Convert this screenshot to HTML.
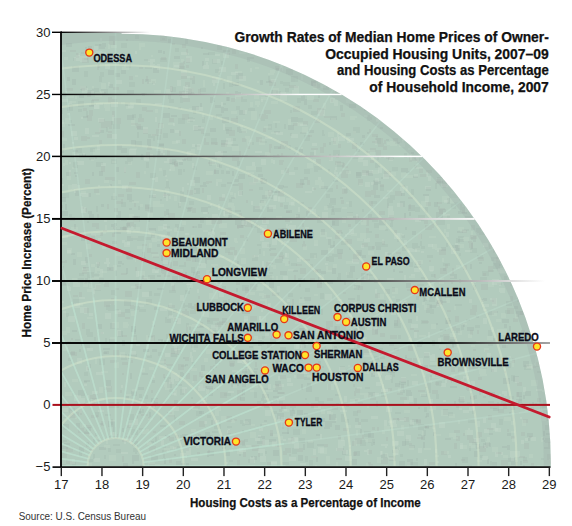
<!DOCTYPE html><html><head><meta charset="utf-8"><style>
html,body{margin:0;padding:0;background:#fff;width:572px;height:526px;overflow:hidden}
svg{display:block}
text{font-family:"Liberation Sans",sans-serif}
</style></head><body>
<svg width="572" height="526" viewBox="0 0 572 526">
<defs>
<clipPath id="pc"><rect x="61.3" y="33.0" width="489.7" height="433.7"/></clipPath>
<clipPath id="cc"><circle cx="121.5" cy="463.0" r="429.3"/><rect x="55" y="33" width="66.5" height="440"/></clipPath>

<linearGradient id="g30" gradientUnits="userSpaceOnUse" x1="61" y1="0" x2="150" y2="0"><stop offset="0" stop-color="#000"/><stop offset="1" stop-color="#fff"/></linearGradient>
<linearGradient id="g25" gradientUnits="userSpaceOnUse" x1="61" y1="0" x2="300" y2="0"><stop offset="0" stop-color="#000"/><stop offset="1" stop-color="#fff"/></linearGradient>
<linearGradient id="g20" gradientUnits="userSpaceOnUse" x1="100" y1="0" x2="400" y2="0"><stop offset="0" stop-color="#000"/><stop offset="1" stop-color="#fff"/></linearGradient>
<linearGradient id="g15" gradientUnits="userSpaceOnUse" x1="150" y1="0" x2="480" y2="0"><stop offset="0" stop-color="#000"/><stop offset="1" stop-color="#fff"/></linearGradient>
<linearGradient id="g10" gradientUnits="userSpaceOnUse" x1="300" y1="0" x2="545" y2="0"><stop offset="0" stop-color="#000"/><stop offset="1" stop-color="#fff"/></linearGradient>
<linearGradient id="g5" gradientUnits="userSpaceOnUse" x1="430" y1="0" x2="620" y2="0"><stop offset="0" stop-color="#000"/><stop offset="1" stop-color="#fff"/></linearGradient>
</defs>
<g clip-path="url(#pc)"><g clip-path="url(#cc)">
<rect x="0" y="0" width="572" height="526" fill="#b2cbbd"/>
<path d="M458 239h6v3h-6zM368 396h2v2h-2zM202 61h2v5h-2zM371 373h4v4h-4zM262 436h3v3h-3zM151 468h6v6h-6zM79 94h5v4h-5zM400 201h5v6h-5zM172 276h6v6h-6zM198 434h3v2h-3zM233 331h2v5h-2zM348 298h2v2h-2zM446 320h5v4h-5zM455 463h2v5h-2zM364 363h5v3h-5zM228 215h4v5h-4zM306 211h2v6h-2zM180 249h5v6h-5zM177 350h4v5h-4zM374 181h7v3h-7zM89 449h5v2h-5zM517 296h2v6h-2zM439 209h7v3h-7zM108 421h7v6h-7zM166 209h3v6h-3zM252 470h7v3h-7zM83 116h5v2h-5zM299 149h4v4h-4zM434 202h4v5h-4zM546 433h7v2h-7zM63 144h2v6h-2zM234 179h5v3h-5zM167 319h4v4h-4zM257 441h6v3h-6zM315 269h6v4h-6zM301 384h2v6h-2zM262 394h7v4h-7zM459 397h5v6h-5zM160 217h4v4h-4zM444 377h2v3h-2zM430 375h2v5h-2zM148 207h5v6h-5zM414 398h3v6h-3zM296 214h4v4h-4zM317 215h2v4h-2zM120 227h6v5h-6zM119 62h6v3h-6zM179 162h4v3h-4zM236 288h2v4h-2zM225 451h5v5h-5zM350 266h5v6h-5zM197 271h3v3h-3zM368 433h6v5h-6zM418 407h2v2h-2zM88 211h4v3h-4zM260 200h4v3h-4zM203 182h3v3h-3zM480 359h5v6h-5zM348 339h6v4h-6zM114 229h7v5h-7zM523 465h2v3h-2zM199 411h5v3h-5zM335 425h5v5h-5zM84 58h4v2h-4zM326 327h4v4h-4zM258 340h4v6h-4zM68 107h2v6h-2zM261 341h3v4h-3zM245 268h2v6h-2zM321 229h4v6h-4zM476 316h3v2h-3zM313 467h2v3h-2zM156 153h7v3h-7zM111 224h5v3h-5zM224 439h3v4h-3zM491 369h3v3h-3zM198 224h4v4h-4zM66 43h6v4h-6zM274 131h6v2h-6zM242 93h5v2h-5zM72 79h4v6h-4zM321 271h5v3h-5zM423 194h6v2h-6zM523 361h6v6h-6zM395 383h5v4h-5zM474 451h4v6h-4zM408 205h7v6h-7zM275 381h6v5h-6zM373 184h5v6h-5zM157 265h6v4h-6zM138 408h3v6h-3zM127 115h7v5h-7zM215 105h6v3h-6zM480 367h7v2h-7zM261 178h4v5h-4zM174 163h4v3h-4zM335 91h7v4h-7zM543 431h2v5h-2zM247 59h3v3h-3zM127 90h7v4h-7zM241 350h4v3h-4zM327 280h6v4h-6zM151 455h7v6h-7zM81 207h3v2h-3zM167 382h5v6h-5zM337 249h6v5h-6zM288 70h5v5h-5zM293 313h7v5h-7zM376 246h5v4h-5zM290 334h2v4h-2zM166 466h2v2h-2zM165 435h5v2h-5zM81 343h3v3h-3zM519 311h4v4h-4zM426 413h3v4h-3zM350 350h6v5h-6zM207 451h7v5h-7zM388 157h5v3h-5zM342 450h4v5h-4zM194 188h6v6h-6zM190 245h7v6h-7zM239 131h7v2h-7zM440 329h6v2h-6zM168 39h3v4h-3zM182 159h4v2h-4zM308 130h6v3h-6zM437 177h6v6h-6zM152 380h3v3h-3zM62 211h6v5h-6zM246 359h2v5h-2zM157 275h4v2h-4zM221 151h6v2h-6zM330 116h7v4h-7zM399 271h4v2h-4zM323 86h6v4h-6zM398 466h7v4h-7zM521 330h4v2h-4zM142 93h3v3h-3zM130 373h2v6h-2zM366 171h7v5h-7zM176 461h5v4h-5zM456 328h4v5h-4zM185 364h3v2h-3zM186 89h6v6h-6zM222 318h5v5h-5zM118 102h3v2h-3zM320 278h2v6h-2zM504 324h3v4h-3zM246 237h2v4h-2zM160 425h6v2h-6zM205 432h5v5h-5zM176 384h6v2h-6zM237 225h6v3h-6zM267 207h6v5h-6zM170 353h7v4h-7zM408 319h4v4h-4zM186 448h3v3h-3zM397 418h7v2h-7zM517 392h5v5h-5zM415 262h2v3h-2zM101 204h3v3h-3zM108 70h6v5h-6zM470 264h2v5h-2zM237 161h3v5h-3zM404 213h2v6h-2zM143 349h6v3h-6zM368 392h7v5h-7zM126 254h7v5h-7zM142 275h2v4h-2zM100 130h4v3h-4zM169 159h7v5h-7zM337 448h7v3h-7zM174 56h6v3h-6zM183 357h2v2h-2zM182 373h2v3h-2zM441 247h5v4h-5zM127 236h6v5h-6zM508 458h7v4h-7zM385 289h5v5h-5zM239 174h6v4h-6zM88 46h4v6h-4zM193 275h7v3h-7zM304 413h4v2h-4zM424 365h4v3h-4zM472 364h6v5h-6zM99 447h7v3h-7zM65 229h2v3h-2zM380 300h6v6h-6zM191 306h3v3h-3zM228 171h2v3h-2zM527 433h6v4h-6zM340 105h3v6h-3zM253 206h7v6h-7zM379 220h7v5h-7zM307 383h4v4h-4zM306 386h6v6h-6zM463 324h2v3h-2zM168 415h7v2h-7zM210 97h3v6h-3zM195 258h4v4h-4zM396 299h4v3h-4zM75 150h2v6h-2zM303 444h2v6h-2zM157 288h7v2h-7zM276 68h6v3h-6zM121 148h6v5h-6zM340 197h3v2h-3zM114 223h3v3h-3zM179 463h6v2h-6zM502 319h7v4h-7zM215 359h5v5h-5zM232 171h2v5h-2zM419 218h5v3h-5zM277 413h7v6h-7zM401 193h4v3h-4zM413 176h5v2h-5zM418 341h5v4h-5zM511 405h4v5h-4zM433 432h3v4h-3zM147 139h4v6h-4zM412 231h4v4h-4zM367 132h2v2h-2zM373 318h7v4h-7zM356 318h2v4h-2zM161 255h2v6h-2zM97 266h2v2h-2zM381 454h6v4h-6zM423 442h2v6h-2zM269 282h5v6h-5zM217 164h3v3h-3zM201 207h7v5h-7zM493 263h7v6h-7zM406 283h5v5h-5zM409 212h2v4h-2zM362 255h4v3h-4zM292 311h2v5h-2zM232 82h6v3h-6zM209 271h6v3h-6zM483 443h2v5h-2zM436 212h7v6h-7zM205 258h2v6h-2zM67 77h3v4h-3zM401 378h5v5h-5zM193 272h4v4h-4zM209 435h2v3h-2zM118 261h4v3h-4zM186 281h6v3h-6zM297 410h6v5h-6zM68 352h7v3h-7zM65 204h2v6h-2zM330 226h2v3h-2zM263 388h5v2h-5zM226 97h4v4h-4zM417 342h5v5h-5zM74 172h4v2h-4zM318 361h3v5h-3zM516 311h3v6h-3zM454 401h2v3h-2zM117 145h5v5h-5zM407 459h6v6h-6zM325 421h7v6h-7zM99 171h4v5h-4zM337 377h2v3h-2zM412 419h6v3h-6zM151 233h4v5h-4zM180 372h3v5h-3zM185 441h2v4h-2zM339 468h3v2h-3zM72 330h5v2h-5zM206 435h5v3h-5zM443 409h5v6h-5zM145 237h6v3h-6zM182 434h6v6h-6zM68 124h7v2h-7zM361 273h7v6h-7zM219 468h5v3h-5zM113 41h2v4h-2zM458 367h7v5h-7zM491 392h4v5h-4zM479 262h3v2h-3zM276 229h3v5h-3zM63 424h6v6h-6zM247 57h7v2h-7zM151 398h7v6h-7zM523 395h2v4h-2zM331 421h5v2h-5zM64 443h6v2h-6zM298 278h7v4h-7zM242 367h5v6h-5zM79 447h5v5h-5zM386 139h3v2h-3zM85 257h3v6h-3zM228 430h3v4h-3zM424 425h5v3h-5zM406 392h6v4h-6zM194 304h6v6h-6zM316 434h4v2h-4zM336 403h3v2h-3zM81 235h4v6h-4zM115 73h5v4h-5zM152 349h5v3h-5zM329 142h2v3h-2zM223 300h4v5h-4zM360 142h4v3h-4zM129 208h3v2h-3zM493 408h6v3h-6zM485 443h6v4h-6zM377 309h7v2h-7zM238 176h7v3h-7zM447 377h5v6h-5zM149 195h7v3h-7zM194 177h6v6h-6zM233 82h6v4h-6zM333 180h5v2h-5zM443 268h3v3h-3zM492 462h5v5h-5zM354 451h6v5h-6zM304 177h4v3h-4zM239 191h4v4h-4zM544 447h6v2h-6zM227 182h5v2h-5zM326 257h3v4h-3zM441 301h6v2h-6zM467 327h7v4h-7zM222 108h6v3h-6zM97 324h5v5h-5zM513 376h6v6h-6zM273 396h6v2h-6zM278 468h2v4h-2zM138 387h6v3h-6zM364 304h6v3h-6zM71 253h4v2h-4zM242 155h6v2h-6zM232 184h6v2h-6zM187 208h4v4h-4zM236 73h7v6h-7zM86 427h5v4h-5zM235 210h6v2h-6zM501 398h5v6h-5zM460 212h7v2h-7zM59 178h4v6h-4zM304 377h6v3h-6zM388 370h7v3h-7zM332 206h2v6h-2zM146 467h7v6h-7zM329 414h7v6h-7zM282 228h5v2h-5zM254 456h3v4h-3zM102 43h4v4h-4zM270 248h6v2h-6zM123 463h5v5h-5zM262 195h5v4h-5zM304 99h3v6h-3zM364 109h5v2h-5zM83 267h6v4h-6zM85 278h3v3h-3zM507 433h4v3h-4zM546 417h4v4h-4zM174 400h4v5h-4zM142 373h6v2h-6zM421 435h4v5h-4zM89 105h5v2h-5zM429 305h7v3h-7zM100 423h3v2h-3zM226 129h3v5h-3zM253 371h4v4h-4zM395 142h5v2h-5zM437 300h5v4h-5zM217 282h3v2h-3zM454 294h4v3h-4zM382 366h6v4h-6zM282 432h7v2h-7zM457 231h6v2h-6zM261 179h6v5h-6zM261 281h5v3h-5zM163 113h7v5h-7zM356 149h4v3h-4zM186 463h3v4h-3zM73 259h3v6h-3zM274 293h5v3h-5zM151 189h4v2h-4zM92 172h2v4h-2zM235 91h3v4h-3zM84 380h6v2h-6zM251 456h2v2h-2zM226 465h2v6h-2zM155 264h3v6h-3zM401 384h3v6h-3zM87 90h5v5h-5zM164 340h6v2h-6zM222 447h4v2h-4zM132 459h2v5h-2zM164 192h2v6h-2zM506 301h6v5h-6zM212 368h2v2h-2zM450 274h7v5h-7zM278 187h5v2h-5zM156 151h5v4h-5zM59 301h2v6h-2zM293 270h5v2h-5zM245 419h6v6h-6zM335 394h4v2h-4zM242 381h4v6h-4zM131 326h5v6h-5zM400 390h5v3h-5zM149 228h7v3h-7zM194 126h7v5h-7zM113 427h3v5h-3zM99 44h6v5h-6zM489 433h4v2h-4zM291 76h4v6h-4zM79 349h2v3h-2zM110 323h5v6h-5zM154 307h5v3h-5zM543 410h6v3h-6zM211 420h5v5h-5zM74 224h2v5h-2zM274 146h7v3h-7zM360 429h2v5h-2zM249 346h4v2h-4zM126 223h4v3h-4zM260 155h7v2h-7zM115 270h2v6h-2zM174 454h2v2h-2zM455 245h5v6h-5zM393 269h2v3h-2zM239 454h2v2h-2zM180 197h6v5h-6zM288 125h6v5h-6zM450 337h6v6h-6zM520 461h2v4h-2zM290 410h5v6h-5zM492 311h6v2h-6zM266 81h6v2h-6zM75 175h2v2h-2zM192 106h7v4h-7zM352 459h5v6h-5zM280 347h6v5h-6zM221 140h7v5h-7zM124 300h7v6h-7zM264 420h3v2h-3zM319 418h6v4h-6zM235 220h7v5h-7zM210 128h6v4h-6zM201 365h4v6h-4zM458 211h3v3h-3zM109 84h4v4h-4zM237 127h4v5h-4zM178 107h3v2h-3zM194 278h2v3h-2zM208 393h5v3h-5zM242 311h2v3h-2zM368 361h6v3h-6zM332 220h7v6h-7zM271 90h7v4h-7zM409 445h6v3h-6zM523 404h6v5h-6zM374 195h6v3h-6zM389 456h7v5h-7zM488 311h6v4h-6zM318 277h4v6h-4zM252 466h7v4h-7zM330 245h5v3h-5zM280 271h7v4h-7zM109 339h6v4h-6zM404 302h2v2h-2zM174 401h2v6h-2zM445 438h6v2h-6zM237 261h2v3h-2zM240 397h5v4h-5zM192 80h3v4h-3zM332 268h4v6h-4zM356 172h5v6h-5zM197 326h7v2h-7zM532 402h2v2h-2zM125 396h4v3h-4zM502 345h6v3h-6zM370 350h6v3h-6zM354 368h4v4h-4zM125 309h5v4h-5zM118 331h5v6h-5zM473 236h3v6h-3zM85 47h2v4h-2zM301 96h4v5h-4zM273 191h7v2h-7zM258 436h7v2h-7zM148 218h2v4h-2zM133 216h7v6h-7zM237 383h2v3h-2zM368 214h4v6h-4zM402 441h4v5h-4zM349 104h7v4h-7zM131 140h5v5h-5zM311 403h7v5h-7zM243 308h7v6h-7zM471 237h5v3h-5zM103 348h7v2h-7zM153 68h6v5h-6zM230 363h4v4h-4zM359 324h6v6h-6zM269 249h2v2h-2zM132 441h6v5h-6zM450 386h7v2h-7zM321 250h7v5h-7zM137 126h6v4h-6zM300 342h6v6h-6zM346 133h5v3h-5zM85 281h5v2h-5zM242 389h3v6h-3zM221 107h3v6h-3zM328 239h3v6h-3zM121 70h5v4h-5zM122 428h2v4h-2zM516 399h6v4h-6zM104 351h5v3h-5zM88 193h3v4h-3zM206 386h7v3h-7zM239 110h6v5h-6zM61 446h7v3h-7zM231 383h2v4h-2zM116 167h3v5h-3zM362 135h3v3h-3zM72 470h7v6h-7zM303 95h2v2h-2zM487 459h2v5h-2zM222 117h7v6h-7zM254 368h4v2h-4zM426 187h5v4h-5zM324 427h6v2h-6zM286 210h6v3h-6zM273 450h6v6h-6zM509 326h2v5h-2zM298 455h5v6h-5zM231 197h4v2h-4zM158 50h4v3h-4zM203 53h6v2h-6zM311 81h5v5h-5zM490 300h4v2h-4zM76 423h4v5h-4zM424 298h3v3h-3zM387 203h2v5h-2zM164 458h2v6h-2zM171 115h6v2h-6zM273 390h5v2h-5zM370 467h5v3h-5zM145 79h6v3h-6zM447 198h3v6h-3zM59 190h2v4h-2zM170 129h4v4h-4zM277 185h7v2h-7zM126 268h2v6h-2zM122 340h3v6h-3zM201 47h2v2h-2zM315 269h3v4h-3zM158 339h5v2h-5zM317 444h7v2h-7zM473 285h3v5h-3zM286 69h7v5h-7zM214 170h5v4h-5zM223 50h7v2h-7zM193 331h7v2h-7zM302 233h7v5h-7zM407 262h2v2h-2zM328 384h3v6h-3zM78 390h7v6h-7zM470 393h2v6h-2zM284 205h4v4h-4zM542 438h2v2h-2zM110 184h2v2h-2zM91 470h3v6h-3zM356 250h6v6h-6zM424 353h5v5h-5zM389 342h5v4h-5zM127 194h5v6h-5zM387 253h5v2h-5zM167 232h3v3h-3zM200 103h2v4h-2zM157 244h3v3h-3zM436 323h2v2h-2zM392 287h3v5h-3zM380 127h3v2h-3zM299 328h5v3h-5zM525 391h6v5h-6zM207 455h2v2h-2zM394 320h4v6h-4zM185 272h2v3h-2zM421 394h6v3h-6zM502 446h7v2h-7zM375 329h3v5h-3zM66 172h5v4h-5zM189 326h2v4h-2zM304 297h7v4h-7zM471 243h2v6h-2zM62 197h4v5h-4zM269 195h4v4h-4zM291 117h7v5h-7zM506 380h3v3h-3zM131 391h6v5h-6zM350 298h5v2h-5zM106 380h5v6h-5zM200 185h7v2h-7zM509 412h2v2h-2zM503 378h7v6h-7zM159 144h5v2h-5zM330 198h6v5h-6zM399 461h6v6h-6zM307 229h6v4h-6zM493 338h3v3h-3zM352 348h5v2h-5zM411 152h3v2h-3zM194 239h3v2h-3zM89 364h2v4h-2zM116 215h5v4h-5zM507 445h3v5h-3zM483 298h4v3h-4zM107 267h7v4h-7zM406 171h4v2h-4zM260 80h3v5h-3zM405 259h5v4h-5zM452 342h2v6h-2zM481 299h3v3h-3zM389 156h5v3h-5zM511 462h7v5h-7zM58 149h6v4h-6zM148 142h3v6h-3zM89 214h5v4h-5zM371 322h7v3h-7zM476 444h4v5h-4zM258 174h5v3h-5zM289 368h3v6h-3zM132 455h7v6h-7zM137 286h4v3h-4zM149 412h2v5h-2zM216 351h6v4h-6zM163 51h2v3h-2zM151 441h3v2h-3zM213 116h4v2h-4zM406 390h5v2h-5zM373 442h2v3h-2zM321 186h7v3h-7zM226 171h3v3h-3zM177 227h7v4h-7zM185 389h2v4h-2zM75 190h4v6h-4zM355 418h4v4h-4zM129 115h5v4h-5zM235 92h6v3h-6zM300 179h4v6h-4zM269 439h7v3h-7zM72 66h7v6h-7zM73 150h5v2h-5zM528 438h2v3h-2zM316 457h2v5h-2zM109 436h3v3h-3zM118 211h3v4h-3zM401 168h7v4h-7zM426 308h4v5h-4zM318 95h2v3h-2zM188 303h4v5h-4z" fill="#8e9894" fill-opacity="0.14"/>
<path d="M547 454h7v6h-7zM535 403h2v3h-2zM182 114h7v6h-7zM303 259h7v2h-7zM192 226h2v2h-2zM73 295h5v2h-5zM167 435h3v3h-3zM342 166h6v2h-6zM260 114h4v3h-4zM372 318h4v2h-4zM418 390h7v2h-7zM167 412h5v2h-5zM323 332h3v5h-3zM168 262h4v6h-4zM517 382h5v4h-5zM122 373h2v2h-2zM166 269h6v3h-6zM358 422h3v3h-3zM275 444h6v3h-6zM259 331h2v2h-2zM437 300h6v5h-6zM163 194h7v2h-7zM512 358h3v5h-3zM356 364h2v5h-2zM348 348h4v2h-4zM107 386h5v3h-5zM445 264h3v4h-3zM362 349h7v6h-7zM109 268h2v2h-2zM269 144h3v4h-3zM304 366h4v4h-4zM322 467h5v4h-5zM327 398h6v3h-6zM103 230h4v2h-4zM425 426h2v2h-2zM107 389h5v3h-5zM293 352h4v3h-4zM112 111h3v6h-3zM136 172h4v6h-4zM84 282h3v2h-3zM162 269h6v5h-6zM434 274h2v4h-2zM104 92h2v3h-2zM442 180h5v6h-5zM234 250h3v6h-3zM370 117h2v3h-2zM289 85h7v3h-7zM462 230h5v3h-5zM353 384h2v3h-2zM260 178h3v4h-3zM341 176h7v2h-7zM218 377h6v2h-6zM278 228h6v5h-6zM285 168h4v5h-4zM523 460h5v3h-5zM293 106h7v6h-7zM419 168h4v5h-4zM140 465h3v3h-3zM470 309h6v6h-6zM510 280h6v6h-6zM439 249h7v6h-7zM122 362h6v3h-6zM429 260h2v2h-2zM529 436h3v2h-3zM239 151h2v6h-2zM109 55h7v4h-7zM461 459h4v2h-4zM336 185h2v4h-2zM237 460h3v6h-3zM58 269h5v2h-5zM138 118h6v4h-6zM383 458h5v6h-5zM92 223h7v4h-7zM130 305h4v4h-4zM473 349h3v2h-3zM105 177h7v3h-7zM81 88h4v3h-4zM231 98h4v4h-4zM308 207h4v6h-4zM422 321h7v2h-7zM389 215h5v6h-5zM221 143h6v4h-6zM425 465h5v2h-5zM433 425h2v3h-2zM456 406h6v2h-6zM479 446h7v6h-7zM122 335h5v2h-5zM393 138h5v4h-5zM127 425h6v3h-6zM114 434h4v5h-4zM370 148h6v4h-6zM468 241h4v2h-4zM332 406h6v4h-6zM409 204h2v5h-2zM186 58h4v5h-4zM532 366h4v2h-4zM485 350h4v2h-4zM211 218h4v6h-4zM336 458h6v2h-6zM167 150h3v6h-3zM243 452h3v5h-3zM394 230h3v5h-3zM158 123h5v5h-5zM452 268h2v6h-2zM358 402h5v2h-5zM438 206h2v4h-2zM338 435h3v4h-3zM215 323h6v4h-6zM380 333h5v4h-5zM151 335h4v6h-4zM488 266h5v6h-5zM328 469h6v2h-6zM149 464h6v3h-6zM490 468h5v6h-5zM396 252h5v2h-5zM370 397h6v3h-6zM147 82h2v2h-2zM109 39h7v6h-7zM239 213h3v4h-3zM114 402h5v6h-5zM417 437h6v2h-6zM229 350h7v3h-7zM252 445h7v6h-7zM160 35h7v6h-7zM114 118h7v6h-7zM93 394h5v5h-5zM383 146h4v4h-4zM281 407h2v4h-2zM356 332h5v5h-5zM172 43h3v2h-3zM132 216h6v3h-6zM279 160h4v5h-4zM501 360h2v6h-2zM147 248h4v5h-4zM478 257h6v4h-6zM89 254h3v3h-3zM467 367h5v2h-5zM186 327h2v6h-2zM59 464h7v5h-7zM294 86h4v2h-4zM99 128h2v4h-2zM146 76h2v5h-2zM151 390h2v3h-2zM206 181h6v2h-6zM354 391h2v5h-2zM229 361h6v5h-6zM96 225h3v4h-3zM121 273h6v2h-6zM124 167h2v6h-2zM122 440h7v2h-7zM358 338h7v3h-7zM278 392h7v2h-7zM60 205h3v3h-3zM168 213h7v6h-7zM472 305h5v6h-5zM232 155h7v6h-7zM490 356h2v4h-2zM181 73h6v6h-6zM60 236h2v4h-2zM368 450h4v4h-4zM235 303h6v2h-6zM400 397h7v3h-7zM205 251h5v2h-5zM515 412h4v2h-4zM169 118h5v4h-5zM84 308h5v5h-5zM125 291h7v6h-7zM72 412h7v5h-7zM262 440h3v5h-3zM164 211h2v5h-2zM380 184h4v3h-4zM219 197h6v4h-6zM141 414h7v2h-7zM244 220h7v6h-7zM313 188h3v2h-3zM230 247h5v3h-5zM151 252h7v2h-7zM178 242h3v6h-3zM272 292h2v4h-2zM343 428h5v3h-5zM379 211h6v4h-6zM443 334h6v6h-6zM304 468h4v5h-4zM386 156h4v3h-4zM242 138h4v4h-4zM477 432h5v5h-5zM135 284h7v5h-7zM83 108h4v3h-4zM524 443h5v6h-5zM423 295h5v2h-5zM302 218h6v2h-6zM255 362h2v5h-2zM101 332h2v2h-2zM302 223h2v4h-2zM97 65h2v5h-2zM127 254h6v6h-6zM362 243h6v4h-6zM338 253h4v6h-4zM249 189h4v2h-4zM362 170h7v5h-7zM324 444h4v3h-4zM104 301h6v6h-6zM70 414h6v4h-6zM454 443h3v6h-3zM89 110h4v6h-4zM365 191h6v6h-6zM308 135h4v2h-4zM281 141h7v5h-7zM184 158h4v2h-4zM396 364h3v2h-3zM82 270h5v4h-5zM235 64h3v5h-3zM418 261h3v4h-3zM97 262h3v4h-3zM531 463h3v6h-3zM483 396h3v2h-3zM152 404h4v3h-4zM246 200h2v3h-2zM470 330h3v5h-3zM311 80h7v5h-7zM323 349h5v2h-5zM437 202h5v2h-5zM202 246h5v6h-5zM187 190h6v5h-6zM210 239h5v2h-5zM237 226h2v3h-2zM234 419h3v2h-3zM507 308h7v6h-7zM211 142h7v3h-7zM208 162h7v2h-7zM462 207h3v6h-3zM382 366h6v2h-6zM228 299h2v4h-2zM269 147h2v6h-2zM463 265h4v5h-4zM239 337h6v4h-6zM504 371h2v2h-2zM118 312h7v5h-7zM237 395h4v5h-4zM357 410h4v3h-4zM129 76h4v4h-4zM501 460h7v6h-7zM111 303h3v2h-3zM235 308h3v2h-3zM60 261h6v2h-6zM90 395h4v4h-4zM395 191h7v5h-7zM384 140h2v4h-2zM163 374h2v4h-2zM402 185h3v2h-3zM193 403h7v6h-7zM93 398h2v2h-2zM201 397h5v3h-5zM79 292h3v5h-3zM186 65h3v3h-3zM376 150h5v6h-5zM381 460h5v4h-5zM336 230h6v3h-6zM189 88h5v3h-5zM81 136h6v5h-6zM207 388h6v2h-6zM519 456h6v2h-6zM358 286h5v4h-5zM207 212h2v2h-2zM333 138h3v6h-3zM70 217h5v4h-5zM375 293h5v5h-5zM358 179h5v6h-5zM266 262h7v2h-7zM208 450h2v4h-2zM101 421h4v5h-4zM176 280h7v3h-7zM186 255h5v6h-5zM277 154h2v2h-2zM95 157h2v2h-2zM302 244h4v3h-4zM331 354h4v6h-4zM355 388h5v5h-5zM335 161h6v4h-6zM136 415h2v3h-2zM463 433h2v3h-2zM263 217h3v6h-3zM326 321h7v6h-7zM105 121h7v6h-7zM369 201h4v5h-4zM129 182h7v3h-7zM440 208h5v2h-5zM432 390h6v4h-6zM97 214h2v6h-2zM193 375h4v6h-4zM329 154h2v6h-2zM346 317h4v4h-4zM275 66h6v4h-6zM240 440h5v5h-5zM293 123h5v3h-5zM109 402h5v6h-5zM280 375h6v4h-6zM69 408h6v5h-6zM372 427h3v3h-3zM250 316h7v5h-7zM188 91h6v4h-6zM121 199h2v3h-2zM92 99h7v2h-7zM267 462h4v4h-4zM198 400h3v4h-3zM66 88h7v3h-7zM536 362h3v5h-3zM331 99h2v3h-2zM341 113h4v4h-4zM238 183h5v3h-5zM153 256h6v2h-6zM210 366h4v4h-4zM238 349h6v4h-6zM348 224h3v3h-3zM283 451h4v4h-4zM161 340h2v3h-2zM435 372h4v5h-4zM416 364h3v2h-3zM310 278h5v3h-5zM470 396h5v4h-5zM478 377h4v3h-4zM498 409h6v4h-6zM136 123h2v5h-2zM352 143h5v6h-5zM510 296h3v6h-3zM202 188h2v5h-2zM152 134h7v2h-7zM366 151h4v2h-4zM275 384h7v6h-7zM386 437h2v4h-2zM60 77h2v4h-2zM342 188h5v6h-5zM267 344h5v4h-5zM376 138h7v5h-7zM388 388h4v3h-4zM382 342h2v3h-2zM456 436h4v5h-4zM451 281h2v3h-2zM118 201h5v3h-5zM162 249h5v5h-5zM311 148h7v2h-7zM213 365h4v3h-4zM341 170h7v6h-7zM179 274h4v6h-4zM212 78h4v2h-4zM219 467h6v6h-6zM85 208h2v4h-2zM285 219h5v3h-5zM307 180h3v5h-3zM320 113h3v3h-3zM467 435h6v5h-6zM207 257h7v3h-7zM220 232h6v3h-6zM366 279h4v3h-4zM266 263h3v6h-3zM334 346h3v2h-3zM182 44h4v4h-4zM270 430h3v6h-3zM143 129h5v5h-5zM214 388h4v2h-4zM343 292h3v2h-3zM237 390h6v6h-6zM192 256h4v6h-4zM250 284h7v6h-7zM404 417h5v5h-5zM372 141h7v2h-7zM396 261h6v3h-6zM372 329h6v6h-6zM355 399h3v3h-3zM109 36h7v4h-7zM197 278h6v2h-6zM313 84h7v4h-7zM101 166h4v6h-4zM240 235h4v3h-4zM83 267h3v2h-3zM285 448h6v5h-6zM393 418h6v2h-6zM163 148h2v5h-2zM520 311h5v4h-5zM278 147h7v2h-7zM303 121h5v4h-5zM451 367h4v5h-4zM110 360h7v3h-7zM439 208h4v6h-4zM126 187h6v5h-6zM399 256h2v5h-2zM202 239h5v6h-5zM182 311h7v5h-7zM197 452h3v3h-3zM185 357h4v4h-4zM125 425h2v4h-2zM214 169h2v5h-2zM183 61h2v3h-2zM87 367h2v3h-2zM511 436h4v3h-4zM99 140h3v4h-3zM202 243h7v4h-7zM507 429h2v3h-2zM416 419h5v5h-5zM179 421h6v4h-6zM111 99h6v5h-6zM397 393h6v2h-6zM394 348h5v3h-5zM112 177h3v4h-3zM135 267h2v4h-2zM409 157h3v5h-3zM338 144h3v4h-3zM211 229h2v6h-2zM317 282h5v6h-5zM146 152h4v6h-4zM186 373h4v6h-4zM279 409h3v3h-3zM213 318h6v3h-6zM420 174h7v3h-7zM431 222h3v6h-3zM549 460h2v4h-2zM394 470h7v2h-7zM407 289h5v2h-5zM294 275h2v5h-2zM353 452h4v3h-4zM316 159h5v5h-5zM441 451h6v4h-6zM125 317h5v2h-5zM198 89h3v5h-3zM137 124h4v5h-4zM493 249h2v4h-2zM168 255h3v3h-3zM289 454h2v2h-2zM549 457h2v3h-2zM382 241h3v4h-3zM174 318h4v4h-4zM429 462h6v3h-6zM107 134h5v4h-5zM67 341h4v2h-4zM418 234h4v5h-4zM104 281h5v6h-5zM460 204h2v6h-2zM247 146h3v3h-3zM268 190h5v6h-5zM153 431h3v2h-3zM185 82h5v5h-5zM296 183h7v5h-7zM182 139h4v5h-4zM201 128h3v6h-3zM112 233h3v4h-3zM426 202h5v4h-5zM303 241h2v5h-2zM275 360h5v4h-5zM299 284h2v3h-2zM134 203h2v4h-2zM405 355h2v5h-2zM95 132h5v2h-5zM366 220h3v6h-3zM178 364h6v6h-6zM149 446h7v6h-7zM179 63h5v6h-5zM190 76h5v4h-5zM231 118h7v5h-7zM443 184h3v4h-3zM531 407h3v3h-3zM412 159h5v2h-5zM409 157h7v4h-7zM225 208h7v6h-7zM245 289h4v4h-4zM523 419h5v4h-5zM218 238h2v6h-2zM206 182h3v2h-3zM152 325h3v2h-3zM279 359h3v3h-3zM131 360h2v3h-2zM288 261h2v3h-2zM248 174h3v3h-3zM337 330h6v5h-6zM301 336h4v6h-4zM477 330h2v4h-2zM352 441h4v5h-4zM440 268h7v6h-7zM258 453h2v4h-2zM548 442h2v5h-2zM313 270h5v2h-5zM398 419h2v2h-2zM179 131h2v5h-2zM114 208h4v4h-4zM94 189h5v4h-5zM126 436h4v3h-4zM323 143h3v4h-3zM537 398h4v4h-4zM438 370h3v2h-3zM85 179h5v5h-5zM496 257h6v6h-6zM252 351h5v2h-5zM353 256h6v6h-6zM492 298h4v6h-4zM364 341h3v5h-3zM488 415h4v5h-4zM264 295h6v3h-6zM322 366h2v2h-2zM82 58h7v5h-7zM280 160h4v2h-4zM239 186h4v4h-4zM336 154h3v4h-3zM353 452h3v4h-3zM312 84h6v2h-6zM183 98h7v4h-7zM397 317h3v6h-3zM366 228h3v5h-3zM296 264h6v2h-6zM219 321h7v4h-7zM372 134h6v3h-6zM113 350h6v6h-6zM160 124h3v3h-3zM166 364h7v2h-7zM75 352h2v4h-2zM286 211h4v2h-4zM207 320h3v2h-3zM280 203h3v4h-3zM266 378h2v2h-2zM263 128h3v4h-3zM66 447h7v5h-7zM466 387h4v3h-4zM346 170h3v3h-3zM487 428h7v2h-7zM220 392h7v6h-7zM225 53h5v2h-5zM469 242h4v6h-4zM511 466h6v6h-6zM66 459h6v5h-6zM371 190h5v5h-5zM146 110h7v2h-7zM200 386h7v2h-7zM71 338h2v2h-2zM174 161h4v6h-4zM142 244h5v2h-5zM78 428h6v5h-6zM131 123h7v2h-7zM270 253h7v3h-7zM192 208h4v5h-4zM254 178h4v4h-4zM345 304h7v4h-7zM455 316h4v6h-4zM82 323h3v6h-3zM496 452h6v2h-6zM368 462h3v2h-3zM410 328h4v2h-4zM353 254h6v2h-6zM145 205h5v6h-5zM63 280h5v5h-5zM370 160h4v3h-4zM355 438h7v6h-7zM83 137h7v2h-7zM143 278h4v3h-4zM483 273h3v3h-3zM520 466h7v4h-7zM109 123h3v6h-3zM184 262h2v3h-2zM245 224h7v3h-7zM279 255h5v4h-5zM147 147h5v3h-5zM317 108h7v6h-7zM236 97h7v2h-7zM126 39h2v2h-2zM378 143h6v4h-6zM320 147h4v6h-4zM161 57h5v3h-5zM254 222h3v2h-3zM424 220h4v4h-4zM164 359h2v5h-2zM390 335h7v4h-7zM470 235h7v4h-7zM115 288h4v2h-4zM409 443h3v2h-3zM266 265h4v6h-4zM161 268h3v5h-3zM255 470h4v4h-4zM436 302h3v4h-3zM186 49h2v6h-2zM281 153h2v4h-2zM469 439h7v4h-7zM353 216h6v2h-6zM173 261h5v5h-5zM408 346h5v5h-5zM122 227h7v3h-7zM473 310h4v2h-4zM142 79h2v5h-2zM87 115h5v6h-5zM292 299h2v6h-2zM236 306h6v5h-6zM280 313h7v4h-7zM142 252h3v6h-3zM108 131h4v2h-4zM116 201h2v3h-2zM503 403h4v6h-4zM369 464h4v5h-4zM479 391h2v4h-2zM454 430h6v3h-6zM452 326h4v5h-4zM357 342h3v6h-3zM477 437h3v5h-3zM269 80h7v6h-7zM96 285h5v4h-5zM346 404h3v3h-3zM199 372h4v5h-4zM107 301h7v3h-7zM107 204h2v5h-2zM232 356h4v3h-4zM111 298h3v2h-3zM297 448h6v4h-6zM513 318h5v4h-5zM232 49h4v5h-4zM226 416h6v6h-6zM412 305h3v4h-3zM345 239h7v5h-7zM334 326h3v4h-3zM84 432h7v2h-7zM91 415h7v3h-7zM467 387h6v4h-6zM362 435h2v4h-2zM489 244h3v5h-3zM374 279h6v4h-6zM324 116h6v2h-6zM245 287h3v6h-3zM314 119h6v4h-6zM471 225h4v5h-4zM170 86h3v6h-3zM458 399h7v3h-7zM89 158h5v2h-5zM164 271h6v6h-6zM86 425h7v3h-7zM118 194h6v3h-6zM156 129h6v5h-6zM297 374h7v5h-7zM341 200h3v4h-3zM414 330h5v2h-5zM168 305h7v3h-7zM426 170h6v3h-6zM204 142h5v3h-5zM425 225h7v5h-7zM122 456h2v6h-2zM278 191h6v5h-6zM185 309h2v4h-2zM99 119h6v4h-6zM413 358h4v5h-4zM372 246h3v3h-3zM87 92h4v5h-4zM101 123h6v5h-6zM516 392h3v5h-3zM264 110h7v4h-7zM65 260h2v3h-2zM237 225h7v3h-7zM188 207h5v4h-5zM502 464h4v5h-4zM108 97h4v6h-4zM100 232h3v4h-3zM436 179h5v5h-5zM175 435h4v3h-4zM92 401h3v4h-3zM287 419h4v5h-4zM91 235h4v5h-4zM113 227h4v2h-4zM375 234h4v4h-4zM171 348h7v6h-7zM204 138h2v5h-2zM291 437h3v4h-3zM447 310h4v2h-4zM313 99h6v3h-6zM71 351h4v5h-4zM408 197h5v2h-5zM139 67h4v2h-4zM199 421h6v6h-6zM335 235h5v4h-5zM481 284h7v6h-7zM329 415h2v5h-2zM148 417h2v2h-2zM414 165h3v3h-3zM256 137h6v5h-6zM384 171h7v6h-7zM436 220h2v6h-2zM290 236h7v6h-7zM236 282h4v3h-4zM277 230h5v4h-5zM70 50h6v2h-6zM113 87h6v3h-6zM311 456h6v2h-6zM169 458h3v5h-3zM497 402h2v6h-2zM235 337h6v5h-6zM179 91h6v5h-6zM377 427h2v4h-2zM228 252h5v3h-5zM142 107h5v4h-5zM280 144h4v5h-4zM521 432h4v4h-4zM319 353h4v5h-4zM120 390h2v3h-2zM76 53h3v5h-3zM215 218h7v6h-7zM259 114h7v5h-7zM59 131h5v6h-5zM369 129h2v4h-2zM342 163h3v4h-3zM435 382h4v3h-4zM229 130h6v6h-6zM407 358h5v6h-5zM172 285h3v6h-3zM198 296h2v3h-2zM300 268h6v6h-6zM104 387h4v3h-4zM169 437h5v4h-5zM147 154h3v5h-3zM263 115h5v4h-5zM127 222h7v5h-7zM80 410h2v5h-2z" fill="#a39a9e" fill-opacity="0.14"/>
<path d="M153 136h2v5h-2zM277 401h6v3h-6zM268 124h4v6h-4zM268 76h2v6h-2zM198 264h3v2h-3zM375 242h7v4h-7zM126 62h5v6h-5zM425 426h7v3h-7zM305 398h2v2h-2zM304 169h6v5h-6zM95 44h6v2h-6zM341 417h4v5h-4zM544 440h4v2h-4zM318 401h6v4h-6zM392 450h6v3h-6zM216 114h6v2h-6zM135 35h4v4h-4zM514 306h4v3h-4zM152 81h3v3h-3zM357 252h4v4h-4zM174 446h7v4h-7zM355 219h5v5h-5zM320 293h4v6h-4zM369 231h3v2h-3zM285 145h6v5h-6zM436 394h3v5h-3zM99 278h5v5h-5zM212 431h6v2h-6zM210 270h4v2h-4zM139 309h7v3h-7zM467 402h3v2h-3zM99 359h6v6h-6zM96 165h5v2h-5zM488 343h5v3h-5zM134 306h6v4h-6zM158 352h4v4h-4zM111 196h6v4h-6zM337 277h4v3h-4zM259 249h2v5h-2zM295 76h3v6h-3zM497 283h5v2h-5zM205 436h2v3h-2zM323 134h2v2h-2zM142 409h2v3h-2zM148 134h7v4h-7zM172 162h3v3h-3zM148 275h7v4h-7zM175 224h4v3h-4zM270 336h6v6h-6zM288 440h4v4h-4zM160 199h2v2h-2zM427 255h6v3h-6zM439 348h2v2h-2zM476 228h5v4h-5zM305 288h5v4h-5zM468 419h7v4h-7zM400 454h3v3h-3zM368 246h6v4h-6zM425 416h2v2h-2zM139 411h5v2h-5zM184 253h7v5h-7zM236 267h2v5h-2zM509 396h5v3h-5zM87 272h7v6h-7zM163 452h2v6h-2zM63 92h4v5h-4zM310 152h4v5h-4zM395 447h4v3h-4zM391 220h2v4h-2zM236 116h2v3h-2zM372 217h6v5h-6zM168 311h4v5h-4zM353 411h5v5h-5zM385 229h3v2h-3zM60 452h7v6h-7zM486 446h2v2h-2zM264 277h2v2h-2zM241 219h5v5h-5zM381 177h2v2h-2zM86 111h2v6h-2zM84 71h4v6h-4zM221 170h3v4h-3zM265 266h2v3h-2zM300 132h6v2h-6zM139 114h3v4h-3zM236 106h4v4h-4zM184 88h5v2h-5zM329 353h6v6h-6zM113 444h7v2h-7zM344 282h2v3h-2zM160 416h3v4h-3zM205 379h6v5h-6zM290 110h2v3h-2zM480 277h7v5h-7zM334 208h7v4h-7zM399 381h7v4h-7zM180 435h2v6h-2zM187 157h5v4h-5zM444 336h6v5h-6zM537 371h4v2h-4zM221 61h2v4h-2zM333 150h7v6h-7zM88 459h5v3h-5zM452 342h5v3h-5zM275 123h2v5h-2zM165 317h2v6h-2zM96 162h7v3h-7zM327 205h5v3h-5zM149 291h3v5h-3zM134 329h2v5h-2zM180 389h4v6h-4zM291 263h6v3h-6zM314 166h4v6h-4zM307 442h7v6h-7zM374 356h5v4h-5zM305 456h3v6h-3zM193 118h2v2h-2zM72 462h4v6h-4zM429 365h7v2h-7zM200 322h3v5h-3zM183 275h2v5h-2zM352 328h6v6h-6zM445 318h5v6h-5zM162 450h5v3h-5zM240 335h3v6h-3zM485 442h5v4h-5zM242 441h3v5h-3zM376 136h2v6h-2zM191 267h4v6h-4zM164 226h6v2h-6zM143 257h3v6h-3zM470 248h7v5h-7zM380 185h4v6h-4zM183 169h2v3h-2zM217 45h5v5h-5zM136 466h6v4h-6zM87 332h6v5h-6zM283 186h5v2h-5zM287 428h2v6h-2zM203 437h6v4h-6zM114 309h5v2h-5zM394 323h7v5h-7zM145 67h7v2h-7zM357 295h3v6h-3zM322 130h2v6h-2zM277 392h7v2h-7zM217 322h6v3h-6zM315 397h4v4h-4zM293 429h7v6h-7zM347 212h6v4h-6zM242 430h2v3h-2zM265 451h2v3h-2zM474 395h3v4h-3zM273 411h4v3h-4zM367 274h6v2h-6zM91 100h3v6h-3zM364 431h7v6h-7zM421 277h4v3h-4zM428 387h3v6h-3zM192 362h3v4h-3zM542 406h4v5h-4zM356 172h6v4h-6zM235 84h6v2h-6zM298 118h5v5h-5zM63 440h4v2h-4zM311 111h6v4h-6zM62 193h7v5h-7zM260 370h4v5h-4zM92 398h5v3h-5zM414 246h6v4h-6zM360 219h3v3h-3zM280 317h4v3h-4zM266 275h6v5h-6zM508 363h3v5h-3zM341 414h3v6h-3zM79 273h5v3h-5zM425 207h3v6h-3zM138 206h2v4h-2zM193 166h4v4h-4zM179 265h7v2h-7zM98 92h5v3h-5zM275 257h7v6h-7zM62 281h5v5h-5zM201 374h6v4h-6zM427 304h5v6h-5zM311 232h3v5h-3zM129 82h6v5h-6zM455 304h7v2h-7zM264 405h7v3h-7zM276 91h5v5h-5zM390 223h3v4h-3zM169 99h5v4h-5zM425 382h6v6h-6zM354 287h5v3h-5zM297 357h2v5h-2zM477 228h3v5h-3zM154 293h6v3h-6zM257 244h4v2h-4zM397 237h2v5h-2zM310 253h7v5h-7zM364 361h4v6h-4zM122 263h2v2h-2zM281 405h5v4h-5zM229 199h3v3h-3zM86 442h3v5h-3zM163 170h3v6h-3zM213 98h2v4h-2zM179 66h6v3h-6zM84 431h7v3h-7zM248 459h6v4h-6zM235 381h4v3h-4zM326 194h4v4h-4zM106 305h7v5h-7zM161 268h6v3h-6zM257 228h5v5h-5zM121 354h6v6h-6zM488 270h6v2h-6zM431 274h4v3h-4zM170 87h6v5h-6zM135 141h7v6h-7zM137 236h7v5h-7zM284 124h2v5h-2zM390 195h5v5h-5zM252 336h2v5h-2zM332 221h3v4h-3zM157 135h4v5h-4zM309 367h7v4h-7zM294 153h2v4h-2zM423 430h3v6h-3zM317 218h6v5h-6zM193 226h4v2h-4zM445 296h6v2h-6zM436 381h6v5h-6zM462 229h7v2h-7zM395 412h6v2h-6zM424 407h3v5h-3zM492 362h6v2h-6zM82 154h4v2h-4zM61 266h3v4h-3zM292 448h5v6h-5zM462 457h6v6h-6zM76 148h6v5h-6zM92 88h7v6h-7zM146 162h3v6h-3zM299 438h6v5h-6zM68 358h3v3h-3zM545 425h7v5h-7zM260 210h3v2h-3zM111 419h2v6h-2zM480 455h3v3h-3zM148 336h5v2h-5zM466 319h4v2h-4zM162 38h3v2h-3zM314 371h4v3h-4zM160 58h7v4h-7zM261 398h3v3h-3zM248 108h7v3h-7zM290 133h2v3h-2zM333 241h2v6h-2zM207 415h4v3h-4zM235 351h5v5h-5zM421 246h4v3h-4zM178 169h4v6h-4zM206 341h4v5h-4zM168 95h3v4h-3zM125 161h6v3h-6zM139 428h7v2h-7zM334 174h2v3h-2zM221 184h5v3h-5zM219 286h7v5h-7zM461 325h3v5h-3zM440 335h3v2h-3zM469 446h2v5h-2zM121 202h5v5h-5zM174 239h4v5h-4zM371 440h2v6h-2zM168 107h2v2h-2zM338 273h3v5h-3zM398 335h3v4h-3zM420 241h2v5h-2zM264 336h7v2h-7zM429 296h6v6h-6zM511 375h4v6h-4zM78 278h6v5h-6zM242 285h7v6h-7zM489 394h3v3h-3zM418 424h6v6h-6zM173 309h4v4h-4zM175 48h4v4h-4zM373 180h5v5h-5zM515 460h2v6h-2zM328 266h4v4h-4zM245 361h4v2h-4zM275 327h3v4h-3zM241 99h6v3h-6zM248 142h6v3h-6zM377 157h2v3h-2zM381 392h5v5h-5zM135 452h2v2h-2zM435 183h2v6h-2zM191 342h7v6h-7zM411 189h3v6h-3zM381 244h7v3h-7zM404 153h3v5h-3zM331 209h4v6h-4zM411 462h7v6h-7zM111 159h6v5h-6zM273 155h7v3h-7zM141 154h2v6h-2zM73 299h6v5h-6zM178 118h7v6h-7zM280 81h3v3h-3zM111 290h4v5h-4zM279 469h5v3h-5zM93 274h7v2h-7zM438 219h7v6h-7zM447 215h3v5h-3zM375 138h6v6h-6zM250 459h4v2h-4zM499 419h4v6h-4zM418 215h7v5h-7zM297 98h4v5h-4zM192 247h5v6h-5zM452 245h7v6h-7zM167 342h3v2h-3zM189 285h2v4h-2zM73 162h5v6h-5zM468 465h4v2h-4zM346 369h5v5h-5zM161 250h5v3h-5zM288 293h5v4h-5zM227 248h2v5h-2zM240 420h3v4h-3zM396 467h5v5h-5zM144 59h6v2h-6zM112 241h5v3h-5zM458 236h6v2h-6zM185 290h3v4h-3zM371 349h2v3h-2zM283 82h7v4h-7zM491 257h7v4h-7zM184 440h7v2h-7zM268 401h3v2h-3zM352 156h6v3h-6zM246 329h5v3h-5zM113 124h7v5h-7zM479 232h7v3h-7zM93 439h2v5h-2zM202 117h3v6h-3zM229 82h4v5h-4zM258 336h6v3h-6zM61 110h2v4h-2zM344 189h4v4h-4zM260 424h7v3h-7zM308 105h4v4h-4zM68 469h2v2h-2zM387 198h6v5h-6zM111 121h2v4h-2zM279 256h4v5h-4zM117 265h4v2h-4zM352 376h4v2h-4zM219 165h3v3h-3zM125 251h6v4h-6zM211 138h6v6h-6zM490 406h7v3h-7zM488 330h4v6h-4zM345 419h4v4h-4zM225 127h7v4h-7zM464 378h2v3h-2zM141 93h6v2h-6zM549 422h6v4h-6zM347 272h6v6h-6zM416 296h3v4h-3zM268 401h4v6h-4zM285 88h4v4h-4zM244 439h4v3h-4zM428 403h3v3h-3zM271 191h6v2h-6zM372 359h3v5h-3zM95 412h4v5h-4zM84 381h3v3h-3zM231 144h7v2h-7zM394 362h5v4h-5zM221 79h3v2h-3zM161 446h5v2h-5zM78 109h4v3h-4zM158 265h3v2h-3zM121 43h6v5h-6zM132 114h4v4h-4zM337 162h7v5h-7zM212 59h5v5h-5zM157 143h7v5h-7zM226 304h6v6h-6zM354 285h6v3h-6zM282 423h2v6h-2zM238 307h3v4h-3zM309 460h4v6h-4zM128 414h6v6h-6zM84 372h4v4h-4zM174 417h2v5h-2zM329 256h5v6h-5zM229 460h4v2h-4zM145 204h5v5h-5zM178 203h3v5h-3zM265 278h4v3h-4zM239 358h2v2h-2zM188 117h5v5h-5zM305 367h6v6h-6zM523 457h4v4h-4zM130 357h3v2h-3zM300 328h5v5h-5zM203 133h7v3h-7zM241 222h4v4h-4zM302 183h3v2h-3zM155 437h2v5h-2zM376 401h2v6h-2zM164 377h7v5h-7zM127 157h6v4h-6zM329 203h7v2h-7zM195 145h5v2h-5zM260 141h7v2h-7zM147 355h5v3h-5zM87 221h2v2h-2zM181 365h5v2h-5zM80 86h7v4h-7zM365 387h5v2h-5zM185 291h5v3h-5zM505 310h5v4h-5zM269 352h4v6h-4zM361 419h7v3h-7zM186 323h3v4h-3zM504 276h3v4h-3zM412 243h6v6h-6zM304 329h6v5h-6zM139 394h3v4h-3zM191 397h2v2h-2zM251 224h7v4h-7zM133 448h5v4h-5zM472 442h6v3h-6zM353 127h7v6h-7zM456 238h4v5h-4zM207 318h6v6h-6zM541 458h3v2h-3zM105 414h6v2h-6zM390 372h5v5h-5zM379 348h4v3h-4zM416 458h2v3h-2zM270 433h3v3h-3zM513 338h7v5h-7zM353 155h5v3h-5zM227 97h2v4h-2zM137 132h2v6h-2zM432 340h3v6h-3zM261 119h4v2h-4zM329 338h2v2h-2zM374 223h5v5h-5zM130 354h7v3h-7zM185 305h3v2h-3zM218 71h2v4h-2zM177 469h3v2h-3zM299 202h5v2h-5zM232 354h6v4h-6zM286 230h2v6h-2zM326 188h7v4h-7zM96 206h2v6h-2zM328 169h2v4h-2zM418 434h3v2h-3zM145 350h2v3h-2zM259 187h4v3h-4zM184 468h6v2h-6zM440 294h2v6h-2zM210 435h3v6h-3zM215 69h6v4h-6zM423 296h2v6h-2zM506 357h4v5h-4zM407 380h2v6h-2zM125 102h5v4h-5zM163 133h5v5h-5zM185 38h3v6h-3zM340 366h5v4h-5zM180 191h4v6h-4zM368 439h7v4h-7zM103 352h4v2h-4zM146 299h6v6h-6zM318 166h4v4h-4zM242 423h3v3h-3zM244 373h7v6h-7zM128 354h7v5h-7zM488 401h6v2h-6zM362 209h2v3h-2zM227 426h5v2h-5zM200 217h4v6h-4zM188 252h3v3h-3zM231 138h5v3h-5zM417 284h7v2h-7zM108 448h3v4h-3zM380 353h5v6h-5zM416 420h5v3h-5zM100 72h4v5h-4zM66 283h4v3h-4zM353 131h3v3h-3zM189 201h5v4h-5zM249 182h7v3h-7zM214 424h7v5h-7zM131 430h7v5h-7zM290 405h6v3h-6zM166 334h6v5h-6zM93 454h2v5h-2zM321 309h2v6h-2zM360 440h6v6h-6zM367 115h3v6h-3zM104 455h2v4h-2zM175 318h2v4h-2zM380 349h2v6h-2zM170 158h2v6h-2zM255 206h4v2h-4zM67 105h6v6h-6zM341 241h7v4h-7zM168 333h3v4h-3zM191 250h6v3h-6zM349 247h2v3h-2zM310 264h3v4h-3zM95 433h3v3h-3zM105 338h2v5h-2zM395 365h4v6h-4zM94 289h7v2h-7zM166 181h3v6h-3zM121 219h6v2h-6zM295 147h3v3h-3zM459 279h2v4h-2zM75 339h5v2h-5zM405 357h2v5h-2zM101 89h7v5h-7zM136 99h5v4h-5zM263 400h6v5h-6zM79 451h3v5h-3zM448 341h5v2h-5zM265 94h3v3h-3zM543 400h5v4h-5zM401 235h4v3h-4zM256 167h6v5h-6zM86 329h4v6h-4zM108 305h7v6h-7zM294 167h4v3h-4zM194 271h4v4h-4zM258 276h4v4h-4zM116 449h5v4h-5zM451 204h5v5h-5zM209 328h7v6h-7zM300 297h2v2h-2zM215 279h3v2h-3zM371 201h6v3h-6zM169 389h4v3h-4zM405 439h4v6h-4zM490 461h2v5h-2zM183 303h2v5h-2zM475 325h5v3h-5zM292 407h2v4h-2zM129 200h5v2h-5zM421 320h7v4h-7zM225 248h5v5h-5zM193 111h3v3h-3zM190 310h6v4h-6zM252 255h6v6h-6zM481 439h4v3h-4zM233 373h2v2h-2zM69 120h3v3h-3zM223 103h3v2h-3zM131 429h4v3h-4zM94 337h2v4h-2zM442 357h2v2h-2zM133 236h7v4h-7zM254 392h3v6h-3zM98 64h2v4h-2zM106 127h2v5h-2zM414 266h7v2h-7zM78 101h6v6h-6zM224 393h7v3h-7zM446 243h2v4h-2zM223 83h2v6h-2zM90 148h5v4h-5zM257 401h4v4h-4zM245 369h5v4h-5zM524 365h7v5h-7zM81 52h3v2h-3zM208 52h7v3h-7zM150 173h6v5h-6zM136 258h7v4h-7zM105 468h4v3h-4zM169 290h7v3h-7zM459 253h2v3h-2zM356 278h2v3h-2zM443 263h7v3h-7zM545 438h6v5h-6zM59 92h3v2h-3zM336 232h7v2h-7zM415 207h5v5h-5zM215 143h2v2h-2zM409 262h4v5h-4zM349 201h3v6h-3zM132 335h5v5h-5zM375 163h5v5h-5zM208 206h3v2h-3zM209 160h3v6h-3zM448 412h5v4h-5zM123 226h5v4h-5zM472 410h3v4h-3zM98 440h4v4h-4zM299 355h4v6h-4zM200 88h6v4h-6zM269 272h4v2h-4zM280 252h3v3h-3zM306 403h3v2h-3zM519 396h3v5h-3zM267 244h4v3h-4zM391 377h2v6h-2zM75 466h4v3h-4zM304 135h6v6h-6zM186 207h6v2h-6zM134 224h2v5h-2zM392 167h6v4h-6zM233 337h5v5h-5zM282 462h7v3h-7zM69 214h3v3h-3zM335 326h5v6h-5zM65 342h2v5h-2zM99 76h3v6h-3zM482 271h7v5h-7zM63 313h6v4h-6zM430 309h4v5h-4zM332 254h6v3h-6zM402 245h5v6h-5zM73 58h3v3h-3zM165 187h5v2h-5zM405 227h2v3h-2zM176 466h6v5h-6zM381 156h3v2h-3zM63 413h5v5h-5zM144 395h4v4h-4zM477 255h6v4h-6zM409 424h4v4h-4zM180 97h3v6h-3zM162 264h2v5h-2zM196 411h6v5h-6zM83 343h7v5h-7zM365 341h7v2h-7zM465 216h7v4h-7zM499 264h2v2h-2z" fill="#96a69a" fill-opacity="0.14"/>
<path d="M307 321h5v4h-5zM152 254h7v3h-7zM242 304h3v6h-3zM488 282h6v5h-6zM421 201h7v6h-7zM142 429h7v5h-7zM273 385h3v3h-3zM157 239h3v2h-3zM262 423h5v3h-5zM257 382h6v2h-6zM104 103h6v5h-6zM221 235h6v4h-6zM148 230h7v4h-7zM504 417h7v4h-7zM311 456h6v2h-6zM65 138h2v3h-2zM321 85h5v3h-5zM332 308h4v5h-4zM458 227h6v3h-6zM219 224h6v4h-6zM251 116h6v4h-6zM302 429h4v5h-4zM233 385h4v3h-4zM319 342h2v5h-2zM512 361h2v6h-2zM357 238h6v3h-6zM493 428h5v3h-5zM192 345h2v5h-2zM67 113h3v2h-3zM529 454h4v4h-4zM95 92h7v5h-7zM338 348h4v5h-4zM108 44h2v5h-2zM380 367h7v5h-7zM67 176h4v4h-4zM263 304h7v6h-7zM432 244h5v5h-5zM124 324h5v2h-5zM354 369h2v6h-2zM302 127h6v6h-6zM67 248h5v6h-5zM247 139h5v6h-5zM172 141h6v3h-6zM404 410h6v3h-6zM486 442h3v5h-3zM231 111h6v3h-6zM159 124h5v4h-5zM281 467h7v3h-7zM442 258h2v4h-2zM410 145h7v5h-7zM131 120h4v6h-4zM303 246h4v4h-4zM104 180h5v3h-5zM511 431h4v2h-4zM206 389h3v5h-3zM265 152h5v5h-5zM458 331h4v4h-4zM231 420h4v3h-4zM265 191h7v6h-7zM191 149h4v5h-4zM253 302h3v6h-3zM149 243h3v5h-3zM461 379h7v5h-7zM211 264h7v2h-7zM346 171h5v3h-5zM541 437h2v5h-2zM354 440h3v6h-3zM460 230h6v2h-6zM265 300h2v6h-2zM346 155h4v2h-4zM94 105h6v4h-6zM392 296h3v2h-3zM388 457h5v2h-5zM166 229h6v2h-6zM260 299h7v2h-7zM237 448h6v6h-6zM460 445h7v4h-7zM103 282h2v2h-2zM447 224h3v5h-3zM273 196h7v5h-7zM65 392h7v4h-7zM351 233h6v3h-6zM147 212h6v5h-6zM137 246h5v3h-5zM72 379h6v3h-6zM404 300h3v2h-3zM486 441h2v6h-2zM112 161h4v2h-4zM512 466h5v3h-5zM451 374h4v3h-4zM154 90h7v3h-7zM131 236h7v2h-7zM347 213h6v6h-6zM376 309h2v4h-2zM377 457h4v6h-4zM109 185h2v2h-2zM431 324h5v5h-5zM449 414h6v4h-6zM202 440h4v3h-4zM320 448h7v6h-7zM192 381h2v2h-2zM93 149h7v6h-7zM259 316h7v6h-7zM342 207h5v2h-5zM422 302h3v3h-3zM168 411h6v6h-6zM424 305h6v5h-6zM206 349h6v5h-6zM270 70h5v3h-5zM229 449h4v3h-4zM360 233h6v6h-6zM408 338h4v3h-4zM169 303h3v4h-3zM359 183h4v3h-4zM285 260h4v6h-4zM402 358h5v2h-5zM113 265h4v6h-4zM132 201h7v2h-7zM353 286h3v2h-3zM61 331h6v4h-6zM496 319h5v3h-5zM151 134h4v2h-4zM152 236h5v6h-5zM139 47h2v3h-2zM353 131h3v3h-3zM364 115h4v2h-4zM432 375h7v3h-7zM385 453h3v4h-3zM273 434h5v3h-5zM201 371h7v5h-7zM285 253h4v5h-4zM81 206h2v3h-2zM444 451h5v3h-5zM436 178h5v3h-5zM363 369h6v5h-6zM234 238h3v4h-3zM297 122h6v4h-6zM334 137h5v6h-5zM534 363h7v2h-7zM429 409h4v2h-4zM223 402h5v2h-5zM191 368h6v3h-6zM355 279h6v6h-6zM295 321h5v3h-5zM200 403h6v4h-6zM259 293h5v3h-5zM66 327h4v6h-4zM356 430h2v6h-2zM347 425h4v3h-4zM110 420h5v2h-5zM224 211h5v6h-5zM109 455h7v6h-7zM87 463h5v5h-5zM483 370h3v5h-3zM363 337h4v2h-4zM105 105h5v6h-5zM479 369h7v5h-7zM407 175h6v3h-6zM100 38h2v3h-2zM245 136h5v3h-5zM179 237h4v6h-4zM158 226h5v5h-5zM266 390h7v2h-7zM126 394h6v2h-6zM181 59h3v3h-3zM378 294h6v5h-6zM433 405h3v5h-3zM192 408h6v2h-6zM297 350h7v3h-7zM331 118h5v2h-5zM331 412h2v3h-2zM276 216h6v4h-6zM225 142h7v5h-7zM399 143h6v4h-6zM258 284h6v6h-6zM541 377h5v2h-5zM68 103h2v2h-2zM111 45h6v3h-6zM243 241h2v5h-2zM61 242h6v3h-6zM259 139h6v6h-6zM336 163h7v2h-7zM201 310h3v6h-3zM333 142h5v3h-5zM153 201h7v6h-7zM147 352h3v4h-3zM189 108h3v2h-3zM434 434h7v2h-7zM273 267h3v2h-3zM327 330h2v6h-2zM454 306h2v4h-2zM424 369h7v5h-7zM82 424h4v3h-4zM364 395h7v3h-7zM390 141h7v5h-7zM421 279h7v2h-7zM99 398h5v3h-5zM144 171h2v3h-2zM381 451h2v4h-2zM393 449h6v6h-6zM248 172h6v2h-6zM444 229h2v4h-2zM203 84h2v3h-2zM257 81h2v2h-2zM87 289h5v3h-5zM304 372h5v2h-5zM233 356h4v3h-4zM271 159h2v4h-2zM419 335h7v2h-7zM516 292h7v6h-7zM89 284h3v4h-3zM59 122h6v5h-6zM174 390h3v6h-3zM113 338h2v6h-2zM463 237h6v4h-6zM368 251h6v4h-6zM350 116h5v4h-5zM452 347h6v6h-6zM279 65h4v6h-4zM337 299h5v2h-5zM197 470h6v2h-6zM514 405h4v2h-4zM116 253h6v3h-6zM471 231h2v4h-2zM60 138h7v3h-7zM71 227h7v4h-7zM295 215h3v2h-3zM271 265h5v2h-5zM384 426h6v5h-6zM72 101h4v2h-4zM335 334h5v6h-5zM65 118h5v6h-5zM72 278h5v4h-5zM203 230h5v2h-5zM323 103h3v6h-3zM95 267h2v6h-2zM214 281h4v3h-4zM324 206h4v4h-4zM333 381h3v4h-3zM91 264h4v3h-4zM375 366h3v5h-3zM273 88h6v6h-6zM307 163h6v5h-6zM295 231h3v5h-3zM118 180h3v4h-3zM500 270h6v4h-6zM165 384h4v6h-4zM398 388h5v4h-5zM451 191h5v3h-5zM123 322h5v6h-5zM288 119h3v6h-3zM286 198h6v4h-6zM130 401h2v6h-2zM81 191h5v3h-5zM174 228h4v4h-4zM131 337h5v6h-5zM453 198h6v4h-6zM255 380h4v3h-4zM299 299h6v4h-6zM106 438h2v6h-2zM382 430h3v4h-3zM248 465h7v5h-7zM186 53h3v2h-3zM104 445h6v3h-6zM271 132h7v2h-7zM129 214h5v4h-5zM471 345h4v2h-4zM148 418h5v2h-5zM252 166h4v4h-4zM199 384h4v4h-4zM113 193h2v6h-2zM241 267h5v3h-5zM382 239h2v4h-2zM215 293h3v6h-3zM268 73h6v2h-6zM537 465h3v5h-3zM92 277h7v2h-7zM191 429h5v3h-5zM183 244h6v2h-6zM112 322h7v6h-7zM326 458h4v6h-4zM346 323h7v6h-7zM77 252h5v5h-5zM95 284h6v6h-6zM424 448h7v2h-7zM328 248h6v5h-6zM423 374h3v3h-3zM240 248h5v6h-5zM250 390h4v2h-4zM291 200h4v6h-4zM327 384h7v6h-7zM133 227h7v5h-7zM182 221h4v4h-4zM96 193h4v2h-4zM387 142h3v3h-3zM429 377h3v6h-3zM169 196h2v3h-2zM315 180h7v5h-7zM168 123h6v2h-6zM435 455h4v2h-4zM268 261h5v2h-5zM139 43h6v4h-6zM147 442h5v3h-5zM372 170h7v4h-7zM192 324h7v3h-7zM319 275h5v6h-5zM379 226h7v4h-7zM240 125h3v4h-3zM190 88h4v4h-4zM216 179h6v3h-6zM159 168h3v3h-3zM420 393h6v3h-6zM346 272h3v3h-3zM226 92h3v2h-3zM159 361h7v2h-7zM438 369h3v5h-3zM535 357h3v6h-3zM459 371h7v4h-7zM72 167h2v2h-2zM293 333h6v6h-6zM395 441h4v4h-4zM273 121h7v2h-7zM307 163h3v3h-3zM326 266h6v6h-6zM99 387h4v6h-4zM409 276h6v2h-6zM422 431h2v5h-2zM232 146h7v5h-7zM254 95h5v4h-5zM398 234h6v2h-6zM252 384h6v4h-6zM166 179h2v2h-2zM232 443h2v5h-2zM360 393h4v2h-4zM235 241h3v2h-3zM187 283h6v5h-6zM487 437h3v5h-3zM206 220h6v5h-6zM439 278h5v6h-5zM366 463h2v6h-2zM334 170h2v2h-2zM231 310h5v2h-5zM340 406h3v2h-3zM230 192h3v3h-3zM153 450h2v2h-2zM166 271h4v4h-4zM78 53h2v3h-2zM202 113h2v6h-2zM319 182h5v6h-5zM114 362h5v6h-5zM187 119h3v4h-3zM349 449h2v6h-2zM360 340h2v4h-2zM304 469h3v2h-3zM135 75h3v2h-3zM147 337h7v6h-7zM155 271h3v2h-3zM314 294h4v2h-4zM385 389h5v3h-5zM535 362h6v4h-6zM231 206h4v4h-4zM141 368h4v4h-4zM95 437h4v2h-4zM105 225h2v5h-2zM86 244h5v5h-5zM244 319h4v6h-4zM336 462h2v5h-2zM234 193h2v5h-2zM221 269h5v6h-5zM103 232h3v2h-3zM308 440h5v3h-5zM174 196h3v5h-3zM65 160h3v5h-3zM205 246h7v4h-7zM172 340h4v6h-4zM425 383h2v4h-2zM295 438h3v4h-3zM333 264h4v4h-4zM256 336h6v4h-6zM253 336h3v3h-3zM320 232h7v5h-7zM219 180h2v2h-2zM65 91h2v2h-2zM490 244h6v4h-6zM242 129h5v4h-5zM187 325h7v2h-7zM235 71h7v2h-7zM401 173h6v5h-6zM173 317h4v4h-4zM506 344h2v4h-2zM280 436h3v4h-3zM458 420h2v4h-2zM430 270h3v2h-3zM321 409h4v5h-4zM251 111h6v6h-6zM365 439h3v3h-3zM75 415h2v4h-2zM152 321h2v5h-2zM482 300h2v3h-2zM83 282h5v5h-5zM95 358h2v6h-2zM346 99h4v4h-4zM463 323h4v2h-4zM213 354h2v6h-2zM291 364h4v3h-4zM252 255h3v3h-3zM326 344h6v5h-6zM281 421h6v6h-6zM549 459h5v6h-5zM92 86h2v3h-2zM505 400h5v2h-5zM155 464h5v3h-5zM313 370h4v2h-4zM243 119h2v2h-2zM216 164h3v4h-3zM515 314h3v5h-3zM133 219h6v3h-6zM165 188h4v4h-4zM228 274h4v2h-4zM249 292h6v3h-6zM220 223h2v2h-2zM254 346h7v3h-7zM188 438h5v5h-5zM250 102h3v5h-3zM209 336h2v2h-2zM255 101h5v4h-5zM206 171h7v4h-7zM130 148h7v2h-7zM522 420h4v6h-4zM411 374h6v2h-6zM469 443h6v5h-6zM144 155h5v5h-5zM440 280h5v2h-5zM119 250h6v4h-6zM456 265h4v4h-4zM283 259h6v4h-6zM429 427h6v2h-6zM282 409h7v3h-7zM492 447h6v5h-6zM68 185h4v5h-4zM271 101h7v3h-7zM261 201h5v4h-5zM392 288h6v6h-6zM70 411h6v2h-6zM342 469h2v2h-2zM290 221h2v2h-2zM102 271h5v2h-5zM361 219h6v6h-6zM82 268h7v4h-7zM203 80h2v5h-2zM212 228h2v6h-2zM132 389h4v3h-4zM435 248h7v2h-7zM430 362h7v3h-7zM250 432h6v6h-6zM155 399h3v3h-3zM135 258h6v4h-6zM206 270h7v5h-7zM224 305h5v3h-5zM314 255h2v4h-2zM245 335h2v4h-2zM359 157h5v2h-5zM276 276h2v5h-2zM228 203h6v4h-6zM304 467h3v6h-3zM484 348h5v4h-5zM388 421h6v2h-6zM416 260h7v4h-7zM335 418h2v3h-2zM512 438h3v4h-3zM503 455h5v3h-5zM397 233h5v6h-5zM477 460h5v2h-5zM314 240h4v4h-4zM402 140h2v6h-2zM450 198h4v5h-4zM75 96h2v3h-2zM105 386h6v2h-6zM389 172h7v4h-7zM303 304h7v5h-7zM227 76h5v6h-5zM264 126h7v2h-7zM354 116h3v2h-3zM350 399h5v6h-5zM164 382h6v5h-6zM131 311h4v5h-4zM296 343h6v6h-6zM341 437h3v4h-3zM204 358h4v4h-4zM418 234h3v5h-3zM319 181h3v3h-3zM140 204h3v3h-3zM237 273h3v5h-3zM362 393h7v2h-7zM58 400h5v4h-5zM526 364h7v5h-7zM63 345h5v6h-5zM313 83h4v6h-4zM246 422h3v2h-3zM271 462h6v2h-6zM346 261h7v3h-7zM501 313h5v5h-5zM367 439h5v3h-5zM149 79h7v4h-7zM68 95h6v3h-6zM339 172h3v2h-3zM87 317h6v2h-6zM453 437h5v2h-5zM218 71h2v5h-2zM242 368h6v3h-6zM531 380h7v6h-7zM441 410h7v6h-7zM266 233h2v6h-2zM250 300h2v5h-2zM155 109h3v4h-3zM458 244h6v4h-6zM446 298h4v5h-4zM259 203h7v3h-7zM253 178h7v5h-7zM148 462h7v4h-7zM91 399h6v6h-6zM226 168h3v2h-3zM255 67h4v2h-4zM301 147h2v2h-2zM149 367h5v3h-5zM99 273h4v4h-4zM397 447h3v3h-3zM209 293h7v6h-7zM58 304h4v3h-4zM368 150h7v5h-7zM238 359h4v4h-4zM460 396h5v5h-5zM380 366h4v6h-4zM138 271h7v5h-7zM241 258h5v6h-5zM175 349h5v5h-5zM342 217h4v6h-4zM120 155h6v2h-6zM376 118h6v3h-6zM168 387h2v3h-2zM517 336h7v4h-7zM221 416h6v6h-6zM285 305h5v4h-5zM288 269h6v2h-6zM494 259h7v2h-7zM215 407h6v4h-6zM160 204h4v3h-4zM346 202h3v2h-3zM91 159h3v2h-3zM469 466h2v6h-2zM511 465h4v3h-4zM220 223h7v5h-7zM262 294h4v4h-4zM210 160h6v5h-6zM96 232h5v3h-5zM246 166h6v4h-6zM146 335h2v5h-2zM191 235h4v6h-4zM185 87h6v6h-6zM101 371h7v2h-7zM160 227h7v3h-7zM301 74h2v6h-2zM215 411h4v5h-4zM484 358h4v3h-4zM326 456h4v4h-4zM267 266h2v3h-2zM342 344h2v2h-2zM415 248h5v4h-5zM465 430h2v5h-2zM449 433h7v4h-7zM492 311h5v5h-5zM456 346h3v2h-3zM124 65h5v5h-5zM307 375h7v3h-7zM487 336h6v4h-6zM64 57h4v3h-4zM468 334h4v4h-4zM201 397h6v4h-6zM285 147h4v3h-4zM233 304h6v5h-6zM122 67h3v3h-3zM76 303h7v3h-7zM213 290h6v3h-6zM170 165h5v6h-5zM306 307h6v2h-6zM170 446h7v3h-7zM147 402h7v3h-7zM101 83h5v6h-5zM366 266h4v5h-4zM511 421h3v4h-3zM110 337h7v5h-7zM72 152h5v5h-5zM200 468h7v3h-7zM209 117h4v3h-4zM200 386h2v2h-2zM401 425h3v5h-3zM503 329h4v6h-4zM355 398h5v2h-5zM256 287h7v4h-7zM348 365h2v2h-2zM239 52h7v2h-7zM176 269h7v3h-7zM127 241h3v4h-3zM242 297h4v4h-4zM128 162h4v3h-4zM387 190h6v2h-6zM244 421h4v3h-4zM467 382h4v4h-4zM270 276h4v2h-4zM497 329h6v6h-6zM95 268h5v3h-5zM261 97h7v3h-7zM367 405h2v3h-2zM408 148h2v2h-2zM217 156h5v5h-5zM131 286h5v2h-5zM442 196h7v6h-7zM120 352h5v6h-5zM143 277h7v5h-7zM126 106h7v3h-7zM260 326h4v4h-4zM542 417h5v4h-5zM164 448h6v4h-6zM328 132h6v5h-6zM257 105h2v2h-2zM151 55h2v2h-2zM263 251h2v5h-2zM439 345h7v4h-7zM480 374h7v2h-7zM409 446h5v4h-5zM173 62h7v6h-7zM450 333h6v6h-6zM251 424h4v2h-4zM258 270h7v6h-7zM159 234h6v3h-6zM429 236h7v2h-7zM432 286h3v5h-3zM127 227h2v5h-2z" fill="#d2e4d6" fill-opacity="0.16"/>
<path d="M283 276h5v5h-5zM280 92h6v2h-6zM476 341h4v3h-4zM245 342h5v2h-5zM63 235h5v3h-5zM206 62h2v3h-2zM250 306h4v3h-4zM177 340h4v5h-4zM127 228h4v6h-4zM236 167h2v2h-2zM277 399h2v6h-2zM241 93h6v3h-6zM293 437h5v5h-5zM171 373h6v6h-6zM284 305h2v5h-2zM179 202h2v4h-2zM316 328h5v5h-5zM482 456h6v4h-6zM294 86h5v5h-5zM482 304h7v3h-7zM373 393h6v3h-6zM160 308h7v3h-7zM342 187h4v2h-4zM219 67h7v5h-7zM437 461h2v2h-2zM112 134h5v5h-5zM187 151h4v6h-4zM250 457h5v6h-5zM272 240h3v2h-3zM177 80h4v6h-4zM373 361h3v3h-3zM384 465h4v4h-4zM347 233h4v2h-4zM238 191h4v5h-4zM382 384h2v6h-2zM150 154h3v4h-3zM483 243h5v4h-5zM166 89h5v6h-5zM375 467h4v6h-4zM339 232h2v3h-2zM223 211h2v5h-2zM407 462h3v6h-3zM469 299h3v4h-3zM344 396h3v6h-3zM211 325h7v5h-7zM116 80h6v4h-6zM205 301h5v5h-5zM385 444h2v4h-2zM268 384h3v5h-3zM244 321h2v6h-2zM386 375h6v4h-6zM188 119h7v2h-7zM281 417h4v3h-4zM262 261h2v5h-2zM206 217h2v2h-2zM259 316h2v4h-2zM361 245h3v3h-3zM214 217h6v3h-6zM441 184h7v3h-7zM94 46h4v4h-4zM364 450h4v2h-4zM96 51h6v5h-6zM192 144h3v3h-3zM330 404h6v2h-6zM176 140h4v3h-4zM414 174h4v3h-4zM471 280h5v3h-5zM134 419h4v6h-4zM98 118h6v4h-6zM74 185h6v5h-6zM196 443h3v5h-3zM213 59h7v4h-7zM365 182h5v5h-5zM371 416h7v3h-7zM197 144h4v6h-4zM285 253h2v4h-2zM170 240h3v5h-3zM228 391h6v2h-6zM91 233h5v3h-5zM92 135h7v2h-7zM313 159h3v3h-3zM425 196h4v6h-4zM252 162h3v4h-3zM384 420h3v6h-3zM400 187h3v4h-3zM404 400h3v6h-3zM86 366h2v5h-2zM100 91h4v2h-4zM353 259h5v5h-5zM415 220h6v2h-6zM307 96h7v4h-7zM239 448h7v4h-7zM298 332h4v3h-4zM193 350h3v2h-3zM73 281h7v6h-7zM96 262h3v2h-3zM454 468h6v6h-6zM74 395h7v6h-7zM82 193h7v4h-7zM177 318h4v6h-4zM218 286h4v6h-4zM99 128h2v4h-2zM369 170h4v3h-4zM186 448h5v3h-5zM483 418h3v5h-3zM388 206h5v6h-5zM83 153h2v3h-2zM471 381h4v3h-4zM69 101h3v3h-3zM223 438h2v4h-2zM272 239h5v6h-5zM164 161h6v2h-6zM430 285h4v4h-4zM261 99h2v3h-2zM220 350h2v4h-2zM389 158h4v3h-4zM515 377h4v6h-4zM219 291h5v6h-5zM213 420h6v5h-6zM69 162h2v2h-2zM338 443h5v6h-5zM507 356h4v2h-4zM281 243h2v2h-2zM130 344h3v4h-3zM500 289h5v4h-5zM338 136h7v5h-7zM448 455h3v3h-3zM244 316h4v5h-4zM163 224h4v5h-4zM258 435h3v2h-3zM157 64h3v6h-3zM181 70h6v6h-6zM353 310h7v3h-7zM153 83h2v2h-2zM121 385h2v3h-2zM385 252h3v5h-3zM124 168h2v3h-2zM322 212h6v6h-6zM128 104h6v4h-6zM445 379h6v4h-6zM89 52h5v4h-5zM394 233h6v6h-6zM315 465h2v6h-2zM262 233h2v6h-2zM108 82h2v4h-2zM122 185h6v4h-6zM531 437h5v4h-5zM254 255h5v2h-5zM490 298h7v4h-7zM397 431h7v5h-7zM411 274h4v2h-4zM255 151h7v2h-7zM210 204h2v2h-2zM312 187h2v4h-2zM265 333h4v5h-4zM276 234h5v4h-5zM357 387h5v2h-5zM305 227h4v2h-4zM254 379h2v6h-2zM349 229h5v5h-5zM209 273h7v6h-7zM286 224h2v2h-2zM334 100h4v6h-4zM231 72h7v3h-7zM213 80h2v6h-2zM194 190h2v3h-2zM347 137h3v6h-3zM241 221h6v4h-6zM502 391h2v3h-2zM450 292h4v2h-4zM277 420h4v2h-4zM255 438h5v3h-5zM154 65h6v3h-6zM363 160h5v6h-5zM165 353h6v4h-6zM235 94h6v5h-6zM250 68h2v4h-2zM359 309h6v4h-6zM146 343h3v6h-3zM326 237h6v2h-6zM367 238h3v3h-3zM215 246h6v3h-6zM100 269h3v4h-3zM280 95h7v6h-7zM174 346h3v5h-3zM414 268h6v4h-6zM174 373h3v5h-3zM67 281h3v6h-3zM150 60h3v4h-3zM451 248h5v6h-5zM272 308h2v6h-2zM198 386h7v5h-7zM378 260h6v3h-6zM186 56h6v6h-6zM160 365h7v3h-7zM98 441h4v3h-4zM373 373h7v2h-7zM267 336h4v2h-4zM310 334h2v2h-2zM186 85h2v6h-2zM288 226h7v4h-7zM288 438h7v6h-7zM297 466h4v3h-4zM274 195h3v6h-3zM86 155h4v2h-4zM450 276h4v2h-4zM459 406h3v4h-3zM495 452h3v5h-3zM101 332h3v2h-3zM177 160h6v2h-6zM92 391h6v3h-6zM406 186h2v5h-2zM72 184h5v5h-5zM61 184h3v2h-3zM425 186h6v3h-6zM320 434h2v5h-2zM491 423h5v5h-5zM261 159h5v6h-5zM273 160h2v4h-2zM327 411h4v3h-4zM510 334h5v4h-5zM364 353h7v4h-7zM501 452h2v3h-2zM379 382h2v4h-2zM418 448h4v5h-4zM242 358h6v6h-6zM509 401h7v3h-7zM204 421h3v3h-3zM474 438h6v4h-6zM58 120h6v4h-6zM289 172h6v3h-6zM289 363h2v4h-2zM279 397h6v3h-6zM237 358h5v5h-5zM340 410h7v2h-7zM62 301h2v2h-2zM203 65h6v4h-6zM294 443h5v6h-5zM94 53h2v3h-2zM346 138h4v2h-4zM470 431h3v3h-3zM487 353h4v4h-4zM310 209h6v5h-6zM419 358h4v6h-4zM175 375h4v6h-4zM260 456h6v6h-6zM418 360h5v2h-5zM499 288h6v4h-6zM430 355h5v6h-5zM383 197h5v2h-5zM272 336h6v3h-6zM163 194h4v3h-4zM375 369h7v6h-7zM478 403h3v3h-3zM84 383h3v3h-3zM536 389h6v2h-6zM312 143h5v3h-5zM155 117h2v5h-2zM373 307h2v4h-2zM77 161h7v4h-7zM215 152h6v6h-6zM217 256h7v2h-7zM237 308h4v5h-4zM387 278h7v2h-7zM153 375h2v3h-2zM477 421h3v6h-3zM336 319h7v5h-7zM300 230h7v6h-7zM498 268h7v5h-7zM279 384h5v3h-5zM98 238h3v2h-3zM444 200h4v3h-4zM401 188h3v5h-3zM463 376h6v3h-6zM169 315h4v3h-4zM251 201h2v4h-2zM102 243h4v6h-4zM389 420h7v5h-7zM275 257h7v2h-7zM58 83h2v3h-2zM223 53h6v5h-6zM228 429h2v3h-2zM404 275h2v6h-2zM212 77h7v6h-7zM62 99h6v3h-6zM300 370h7v4h-7zM81 117h2v2h-2zM63 413h5v4h-5zM196 107h7v4h-7zM346 334h4v3h-4zM367 326h5v4h-5zM504 391h3v5h-3zM152 269h7v4h-7zM437 304h2v3h-2zM523 403h6v5h-6zM272 332h4v4h-4zM304 367h7v2h-7zM252 468h5v2h-5zM355 425h6v3h-6zM63 163h2v3h-2zM105 64h5v5h-5zM339 367h6v4h-6zM325 263h3v2h-3zM380 451h2v4h-2zM375 178h4v4h-4zM443 400h3v2h-3zM195 93h5v2h-5zM124 440h2v4h-2zM516 451h4v6h-4zM222 194h3v4h-3zM180 295h4v6h-4zM292 90h7v5h-7zM155 103h7v2h-7zM401 377h5v5h-5zM81 207h5v6h-5zM172 334h7v5h-7zM161 440h3v6h-3zM87 348h6v3h-6zM278 197h7v5h-7zM301 345h3v3h-3zM527 366h6v2h-6zM71 131h6v5h-6zM153 194h3v3h-3zM345 456h7v5h-7zM67 287h4v4h-4zM124 242h6v5h-6zM455 243h3v2h-3zM268 303h3v5h-3zM89 431h2v5h-2zM298 207h2v5h-2zM249 182h7v3h-7zM381 313h3v3h-3zM382 309h6v4h-6zM407 400h2v5h-2zM198 127h6v2h-6zM97 145h3v5h-3zM130 438h3v6h-3zM80 307h7v6h-7zM215 54h5v2h-5zM254 349h7v5h-7zM525 438h3v3h-3zM94 105h5v4h-5zM246 445h5v2h-5zM216 283h6v2h-6zM79 297h6v2h-6zM314 404h7v5h-7zM351 302h6v5h-6zM74 137h4v3h-4zM193 125h5v5h-5zM426 172h2v5h-2zM290 362h4v3h-4zM353 260h6v4h-6zM131 226h2v4h-2zM375 289h2v5h-2zM499 394h2v5h-2zM262 364h5v5h-5zM344 320h2v3h-2zM199 263h7v5h-7zM74 303h6v5h-6zM191 458h7v3h-7zM441 383h5v4h-5zM96 103h7v2h-7zM279 231h2v5h-2zM443 213h3v3h-3zM386 407h6v5h-6zM181 52h6v3h-6zM258 449h7v4h-7zM150 64h5v3h-5zM313 449h3v6h-3zM76 55h4v6h-4zM358 158h5v4h-5zM61 408h7v4h-7zM174 65h5v2h-5zM284 353h2v6h-2zM190 352h2v6h-2zM314 150h2v5h-2zM385 376h5v4h-5zM350 345h4v3h-4zM270 312h2v2h-2zM510 451h7v6h-7zM430 399h3v5h-3zM463 410h6v3h-6zM542 408h4v5h-4zM175 130h4v3h-4zM80 398h5v5h-5zM449 378h2v2h-2zM439 422h6v6h-6zM335 167h2v3h-2zM208 232h7v3h-7zM207 195h4v5h-4zM117 330h4v6h-4zM513 400h5v4h-5zM375 373h6v4h-6zM110 432h4v3h-4zM163 260h5v4h-5zM170 87h2v4h-2zM124 167h2v5h-2zM318 110h7v6h-7zM169 169h2v2h-2zM63 311h3v6h-3zM84 312h3v2h-3zM265 220h3v3h-3zM80 193h5v3h-5zM347 138h7v3h-7zM521 440h3v4h-3zM223 266h5v2h-5zM412 249h5v3h-5zM227 280h4v2h-4zM269 190h2v2h-2zM212 214h6v4h-6zM192 163h2v5h-2zM399 418h7v3h-7zM80 56h7v6h-7zM263 450h2v6h-2zM211 231h3v6h-3zM239 76h7v5h-7zM483 309h4v2h-4zM330 98h5v5h-5zM131 351h5v4h-5zM179 438h3v2h-3zM424 352h6v4h-6zM389 458h5v2h-5zM300 463h6v2h-6zM289 225h7v4h-7zM356 214h2v6h-2zM291 134h7v4h-7zM136 271h3v6h-3zM169 379h5v5h-5zM483 393h3v2h-3zM416 316h2v5h-2zM74 154h5v4h-5zM262 440h7v6h-7zM428 332h2v6h-2zM166 195h2v6h-2zM465 363h3v2h-3zM129 423h3v4h-3zM105 313h6v6h-6zM259 428h4v3h-4zM94 458h6v4h-6zM397 203h6v4h-6zM379 317h7v5h-7zM153 342h7v2h-7zM203 212h5v2h-5zM142 292h7v5h-7zM472 383h3v3h-3zM89 313h4v3h-4zM271 79h5v3h-5zM186 451h5v4h-5zM69 170h2v6h-2zM265 137h7v2h-7zM541 408h2v6h-2zM409 250h6v2h-6zM299 154h2v3h-2zM284 308h2v6h-2zM338 440h7v6h-7zM469 407h5v4h-5zM167 158h5v5h-5zM173 343h6v3h-6zM230 320h4v5h-4zM91 91h3v3h-3zM318 177h3v3h-3zM383 174h6v5h-6zM262 218h7v6h-7zM115 310h6v4h-6zM182 92h6v6h-6zM121 452h7v2h-7zM352 259h6v4h-6zM81 403h3v2h-3zM216 182h2v4h-2zM410 154h2v6h-2zM441 178h4v3h-4zM293 414h3v6h-3zM294 375h2v3h-2zM87 395h2v5h-2zM77 358h5v6h-5zM93 288h2v6h-2zM104 219h3v3h-3zM331 138h5v3h-5zM287 378h4v4h-4zM98 410h6v2h-6zM400 301h6v3h-6zM371 182h3v3h-3zM287 299h3v3h-3zM261 308h2v4h-2zM74 191h2v2h-2zM152 178h4v2h-4zM437 250h2v2h-2zM260 225h7v6h-7zM104 262h6v2h-6zM217 287h2v4h-2zM428 176h3v5h-3zM465 250h7v2h-7zM362 173h6v3h-6zM221 102h2v4h-2zM491 327h3v5h-3zM477 443h2v4h-2zM484 429h5v4h-5zM232 370h6v2h-6zM198 400h7v5h-7zM411 324h7v4h-7zM82 88h6v5h-6zM414 332h3v6h-3zM381 444h7v2h-7zM428 244h5v3h-5zM406 435h5v6h-5zM429 266h5v5h-5zM364 239h6v3h-6zM371 155h3v5h-3zM80 86h6v3h-6zM392 441h6v5h-6zM377 371h7v2h-7zM111 102h7v5h-7zM229 303h4v2h-4zM255 206h7v3h-7zM374 327h3v3h-3zM180 453h7v5h-7zM464 366h5v6h-5zM444 214h6v2h-6zM218 204h2v6h-2zM375 140h2v5h-2zM460 443h3v6h-3zM143 127h5v6h-5zM74 57h4v4h-4zM492 279h7v6h-7zM286 226h4v2h-4zM182 387h5v6h-5zM376 382h5v4h-5zM107 262h2v5h-2zM234 255h3v5h-3zM495 428h6v4h-6zM297 258h4v4h-4zM402 139h3v2h-3zM376 362h7v3h-7zM173 447h3v2h-3zM272 441h5v6h-5zM124 438h6v2h-6zM415 308h4v4h-4zM173 123h2v3h-2zM367 449h2v6h-2zM255 267h3v3h-3zM239 301h4v3h-4zM343 450h5v4h-5zM542 390h2v2h-2zM227 430h4v3h-4zM260 235h4v6h-4zM187 76h6v2h-6zM287 383h6v3h-6zM96 372h7v3h-7zM58 96h2v4h-2zM223 124h2v6h-2zM349 445h2v2h-2zM185 233h4v2h-4zM112 434h5v2h-5zM271 461h6v6h-6zM388 211h6v6h-6zM226 138h7v6h-7zM80 410h2v3h-2zM412 381h6v4h-6zM205 58h4v3h-4zM262 266h4v3h-4zM64 382h2v5h-2zM62 50h4v2h-4zM67 250h4v3h-4zM274 356h2v4h-2zM139 305h5v2h-5zM135 51h2v3h-2zM426 294h4v6h-4zM205 337h4v4h-4zM172 407h7v4h-7zM159 436h7v3h-7zM203 312h6v5h-6zM148 59h7v3h-7zM465 206h3v6h-3zM161 235h7v4h-7zM106 258h3v4h-3zM305 191h7v2h-7zM78 400h5v5h-5zM288 350h3v4h-3zM160 149h5v6h-5zM391 312h5v3h-5zM191 356h2v6h-2zM492 301h5v5h-5zM499 281h2v5h-2zM117 250h7v2h-7zM376 260h4v6h-4zM340 376h4v2h-4zM317 280h6v3h-6zM102 52h4v2h-4zM318 447h6v6h-6zM390 424h7v3h-7zM408 248h5v4h-5zM245 299h7v4h-7zM277 286h3v6h-3zM172 393h4v2h-4zM404 240h3v5h-3zM262 242h7v6h-7zM283 439h3v2h-3zM98 185h2v2h-2zM70 459h5v5h-5zM446 232h3v5h-3zM294 343h5v6h-5zM381 389h7v3h-7zM289 457h7v4h-7zM281 170h3v4h-3zM112 115h2v6h-2zM392 354h4v4h-4zM416 156h3v6h-3zM85 128h4v6h-4zM243 110h4v4h-4zM81 261h5v4h-5zM395 449h3v6h-3zM300 124h7v2h-7zM213 266h2v2h-2zM182 187h2v5h-2zM345 314h7v3h-7zM293 351h4v4h-4zM183 86h3v4h-3zM190 180h5v6h-5zM284 241h5v2h-5zM101 163h5v3h-5zM278 416h2v5h-2zM87 468h2v6h-2zM429 283h5v2h-5zM409 396h4v6h-4zM197 289h2v4h-2zM378 167h4v6h-4zM283 331h3v6h-3zM284 409h3v2h-3zM269 205h7v4h-7zM511 457h3v4h-3zM153 405h2v3h-2zM186 281h4v4h-4zM525 408h3v3h-3zM187 183h2v2h-2zM484 445h2v3h-2zM248 272h3v4h-3zM249 357h2v4h-2zM376 119h3v3h-3zM144 157h5v4h-5zM492 367h5v5h-5zM305 341h3v4h-3zM122 240h3v3h-3zM483 318h4v6h-4zM129 149h7v6h-7zM278 376h2v4h-2zM465 363h2v3h-2zM108 53h2v5h-2zM337 133h2v4h-2zM278 362h6v2h-6zM325 294h7v6h-7zM432 354h3v2h-3zM520 417h2v2h-2zM136 342h4v4h-4zM345 234h2v3h-2zM165 175h2v2h-2zM410 420h4v5h-4zM250 341h2v2h-2zM175 334h5v3h-5zM265 410h6v6h-6zM171 283h3v3h-3zM435 449h2v4h-2zM164 195h2v2h-2zM289 425h7v2h-7zM72 142h2v2h-2zM523 387h3v5h-3zM336 448h7v3h-7zM336 154h2v3h-2zM329 156h4v5h-4zM378 469h2v6h-2zM468 428h2v4h-2zM424 459h3v6h-3zM155 177h3v5h-3zM421 251h3v2h-3zM314 244h4v2h-4zM416 167h7v2h-7zM68 316h7v6h-7zM226 462h2v2h-2zM218 151h5v6h-5zM139 398h3v2h-3zM364 275h5v5h-5zM262 469h5v2h-5zM438 338h3v4h-3zM240 268h2v2h-2zM467 430h6v5h-6zM276 132h7v3h-7zM289 202h5v3h-5zM334 172h4v4h-4z" fill="#e0ebe0" fill-opacity="0.16"/>
<circle cx="115.6" cy="466" r="28" fill="none" stroke="#dcebd0" stroke-opacity="0.4" stroke-width="2.2"/>
<circle cx="115.6" cy="466" r="68" fill="none" stroke="#dcebd0" stroke-opacity="0.4" stroke-width="2.2"/>
<circle cx="115.6" cy="466" r="110" fill="none" stroke="#dcebd0" stroke-opacity="0.4" stroke-width="2.2"/>
<circle cx="115.6" cy="466" r="166" fill="none" stroke="#dcebd0" stroke-opacity="0.4" stroke-width="2.2"/>
<circle cx="115.6" cy="466" r="235" fill="none" stroke="#dcebd0" stroke-opacity="0.4" stroke-width="2.2"/>
<circle cx="115.6" cy="466" r="279" fill="none" stroke="#dcebd0" stroke-opacity="0.4" stroke-width="2.2"/>
<circle cx="115.6" cy="466" r="321" fill="none" stroke="#dcebd0" stroke-opacity="0.4" stroke-width="2.2"/>
<circle cx="115.6" cy="466" r="363" fill="none" stroke="#dcebd0" stroke-opacity="0.4" stroke-width="2.2"/>
<circle cx="115.6" cy="466" r="401" fill="none" stroke="#dcebd0" stroke-opacity="0.4" stroke-width="2.2"/>
<line x1="143.6" y1="466.0" x2="715.6" y2="466.0" stroke="#c4e6d4" stroke-opacity="0.3" stroke-width="1.6"/>
<line x1="143.6" y1="466.0" x2="285.6" y2="466.0" stroke="#c0ead6" stroke-opacity="0.35" stroke-width="1.8"/>
<line x1="143.4" y1="462.3" x2="710.5" y2="387.7" stroke="#c4e6d4" stroke-opacity="0.3" stroke-width="1.6"/>
<line x1="143.4" y1="462.3" x2="284.1" y2="443.8" stroke="#c0ead6" stroke-opacity="0.35" stroke-width="1.8"/>
<line x1="142.6" y1="458.8" x2="695.2" y2="310.7" stroke="#c4e6d4" stroke-opacity="0.3" stroke-width="1.6"/>
<line x1="142.6" y1="458.8" x2="279.8" y2="422.0" stroke="#c0ead6" stroke-opacity="0.35" stroke-width="1.8"/>
<line x1="141.5" y1="455.3" x2="669.9" y2="236.4" stroke="#c4e6d4" stroke-opacity="0.3" stroke-width="1.6"/>
<line x1="141.5" y1="455.3" x2="272.7" y2="400.9" stroke="#c0ead6" stroke-opacity="0.35" stroke-width="1.8"/>
<line x1="139.8" y1="452.0" x2="635.2" y2="166.0" stroke="#c4e6d4" stroke-opacity="0.3" stroke-width="1.6"/>
<line x1="139.8" y1="452.0" x2="262.8" y2="381.0" stroke="#c0ead6" stroke-opacity="0.35" stroke-width="1.8"/>
<line x1="137.8" y1="449.0" x2="591.6" y2="100.7" stroke="#c4e6d4" stroke-opacity="0.3" stroke-width="1.6"/>
<line x1="137.8" y1="449.0" x2="250.5" y2="362.5" stroke="#c0ead6" stroke-opacity="0.35" stroke-width="1.8"/>
<line x1="135.4" y1="446.2" x2="539.9" y2="41.7" stroke="#c4e6d4" stroke-opacity="0.3" stroke-width="1.6"/>
<line x1="135.4" y1="446.2" x2="235.8" y2="345.8" stroke="#c0ead6" stroke-opacity="0.35" stroke-width="1.8"/>
<line x1="132.6" y1="443.8" x2="480.9" y2="-10.0" stroke="#c4e6d4" stroke-opacity="0.3" stroke-width="1.6"/>
<line x1="132.6" y1="443.8" x2="219.1" y2="331.1" stroke="#c0ead6" stroke-opacity="0.35" stroke-width="1.8"/>
<line x1="129.6" y1="441.8" x2="415.6" y2="-53.6" stroke="#c4e6d4" stroke-opacity="0.3" stroke-width="1.6"/>
<line x1="129.6" y1="441.8" x2="200.6" y2="318.8" stroke="#c0ead6" stroke-opacity="0.35" stroke-width="1.8"/>
<line x1="126.3" y1="440.1" x2="345.2" y2="-88.3" stroke="#c4e6d4" stroke-opacity="0.3" stroke-width="1.6"/>
<line x1="126.3" y1="440.1" x2="180.7" y2="308.9" stroke="#c0ead6" stroke-opacity="0.35" stroke-width="1.8"/>
<line x1="122.8" y1="439.0" x2="270.9" y2="-113.6" stroke="#c4e6d4" stroke-opacity="0.3" stroke-width="1.6"/>
<line x1="122.8" y1="439.0" x2="159.6" y2="301.8" stroke="#c0ead6" stroke-opacity="0.35" stroke-width="1.8"/>
<line x1="119.3" y1="438.2" x2="193.9" y2="-128.9" stroke="#c4e6d4" stroke-opacity="0.3" stroke-width="1.6"/>
<line x1="119.3" y1="438.2" x2="137.8" y2="297.5" stroke="#c0ead6" stroke-opacity="0.35" stroke-width="1.8"/>
<line x1="115.6" y1="438.0" x2="115.6" y2="-134.0" stroke="#c4e6d4" stroke-opacity="0.3" stroke-width="1.6"/>
<line x1="115.6" y1="438.0" x2="115.6" y2="296.0" stroke="#c0ead6" stroke-opacity="0.35" stroke-width="1.8"/>
<line x1="111.9" y1="438.2" x2="37.3" y2="-128.9" stroke="#c4e6d4" stroke-opacity="0.3" stroke-width="1.6"/>
<line x1="111.9" y1="438.2" x2="93.4" y2="297.5" stroke="#c0ead6" stroke-opacity="0.35" stroke-width="1.8"/>
<line x1="108.4" y1="439.0" x2="-39.7" y2="-113.6" stroke="#c4e6d4" stroke-opacity="0.3" stroke-width="1.6"/>
<line x1="108.4" y1="439.0" x2="71.6" y2="301.8" stroke="#c0ead6" stroke-opacity="0.35" stroke-width="1.8"/>
<line x1="104.9" y1="440.1" x2="-114.0" y2="-88.3" stroke="#c4e6d4" stroke-opacity="0.3" stroke-width="1.6"/>
<line x1="104.9" y1="440.1" x2="50.5" y2="308.9" stroke="#c0ead6" stroke-opacity="0.35" stroke-width="1.8"/>
<line x1="101.6" y1="441.8" x2="-184.4" y2="-53.6" stroke="#c4e6d4" stroke-opacity="0.3" stroke-width="1.6"/>
<line x1="101.6" y1="441.8" x2="30.6" y2="318.8" stroke="#c0ead6" stroke-opacity="0.35" stroke-width="1.8"/>
<line x1="98.6" y1="443.8" x2="-249.7" y2="-10.0" stroke="#c4e6d4" stroke-opacity="0.3" stroke-width="1.6"/>
<line x1="98.6" y1="443.8" x2="12.1" y2="331.1" stroke="#c0ead6" stroke-opacity="0.35" stroke-width="1.8"/>
<line x1="95.8" y1="446.2" x2="-308.7" y2="41.7" stroke="#c4e6d4" stroke-opacity="0.3" stroke-width="1.6"/>
<line x1="95.8" y1="446.2" x2="-4.6" y2="345.8" stroke="#c0ead6" stroke-opacity="0.35" stroke-width="1.8"/>
<line x1="93.4" y1="449.0" x2="-360.4" y2="100.7" stroke="#c4e6d4" stroke-opacity="0.3" stroke-width="1.6"/>
<line x1="93.4" y1="449.0" x2="-19.3" y2="362.5" stroke="#c0ead6" stroke-opacity="0.35" stroke-width="1.8"/>
<line x1="91.4" y1="452.0" x2="-404.0" y2="166.0" stroke="#c4e6d4" stroke-opacity="0.3" stroke-width="1.6"/>
<line x1="91.4" y1="452.0" x2="-31.6" y2="381.0" stroke="#c0ead6" stroke-opacity="0.35" stroke-width="1.8"/>
<line x1="89.7" y1="455.3" x2="-438.7" y2="236.4" stroke="#c4e6d4" stroke-opacity="0.3" stroke-width="1.6"/>
<line x1="89.7" y1="455.3" x2="-41.5" y2="400.9" stroke="#c0ead6" stroke-opacity="0.35" stroke-width="1.8"/>
<line x1="88.6" y1="458.8" x2="-464.0" y2="310.7" stroke="#c4e6d4" stroke-opacity="0.3" stroke-width="1.6"/>
<line x1="88.6" y1="458.8" x2="-48.6" y2="422.0" stroke="#c0ead6" stroke-opacity="0.35" stroke-width="1.8"/>
<line x1="87.8" y1="462.3" x2="-479.3" y2="387.7" stroke="#c4e6d4" stroke-opacity="0.3" stroke-width="1.6"/>
<line x1="87.8" y1="462.3" x2="-52.9" y2="443.8" stroke="#c0ead6" stroke-opacity="0.35" stroke-width="1.8"/>
<line x1="87.6" y1="466.0" x2="-484.4" y2="466.0" stroke="#c4e6d4" stroke-opacity="0.3" stroke-width="1.6"/>
<line x1="87.6" y1="466.0" x2="-54.4" y2="466.0" stroke="#c0ead6" stroke-opacity="0.35" stroke-width="1.8"/>
<circle cx="121.5" cy="463.0" r="429.3" fill="none" stroke="#98a4a2" stroke-opacity="0.22" stroke-width="14"/>
</g></g>
<rect x="61" y="31.60" width="99.0" height="1.4" fill="url(#g30)"/>
<rect x="52" y="31.60" width="10" height="1.4" fill="#000"/>
<rect x="61" y="93.75" width="280.7" height="1.4" fill="url(#g25)"/>
<rect x="52" y="93.75" width="10" height="1.4" fill="#000"/>
<rect x="61" y="155.65" width="361.0" height="1.5" fill="url(#g20)"/>
<rect x="52" y="155.65" width="10" height="1.5" fill="#000"/>
<rect x="61" y="217.95" width="413.6" height="1.9" fill="url(#g15)"/>
<rect x="52" y="217.95" width="10" height="1.9" fill="#000"/>
<rect x="61" y="280.05" width="489.0" height="1.9" fill="url(#g10)"/>
<rect x="52" y="280.05" width="10" height="1.9" fill="#000"/>
<rect x="61" y="342.05" width="489.0" height="1.9" fill="url(#g5)"/>
<rect x="52" y="342.05" width="10" height="1.9" fill="#000"/>
<rect x="52.5" y="403.90" width="497.5" height="2" fill="#a90f1c"/>
<rect x="60.1" y="31.599999999999998" width="1.8" height="436.2" fill="#000"/>
<rect x="52.5" y="466.3" width="498.0" height="1.6" fill="#000"/>
<rect x="60.60" y="467.1" width="1.4" height="9" fill="#222"/>
<text x="61.30" y="488.8" font-size="13" text-anchor="middle" fill="#1a1a1a">17</text>
<rect x="101.27" y="467.1" width="1.4" height="9" fill="#222"/>
<text x="101.97" y="488.8" font-size="13" text-anchor="middle" fill="#1a1a1a">18</text>
<rect x="141.94" y="467.1" width="1.4" height="9" fill="#222"/>
<text x="142.64" y="488.8" font-size="13" text-anchor="middle" fill="#1a1a1a">19</text>
<rect x="182.61" y="467.1" width="1.4" height="9" fill="#222"/>
<text x="183.31" y="488.8" font-size="13" text-anchor="middle" fill="#1a1a1a">20</text>
<rect x="223.28" y="467.1" width="1.4" height="9" fill="#222"/>
<text x="223.98" y="488.8" font-size="13" text-anchor="middle" fill="#1a1a1a">21</text>
<rect x="263.95" y="467.1" width="1.4" height="9" fill="#222"/>
<text x="264.65" y="488.8" font-size="13" text-anchor="middle" fill="#1a1a1a">22</text>
<rect x="304.62" y="467.1" width="1.4" height="9" fill="#222"/>
<text x="305.32" y="488.8" font-size="13" text-anchor="middle" fill="#1a1a1a">23</text>
<rect x="345.29" y="467.1" width="1.4" height="9" fill="#222"/>
<text x="345.99" y="488.8" font-size="13" text-anchor="middle" fill="#1a1a1a">24</text>
<rect x="385.96" y="467.1" width="1.4" height="9" fill="#222"/>
<text x="386.66" y="488.8" font-size="13" text-anchor="middle" fill="#1a1a1a">25</text>
<rect x="426.63" y="467.1" width="1.4" height="9" fill="#222"/>
<text x="427.33" y="488.8" font-size="13" text-anchor="middle" fill="#1a1a1a">26</text>
<rect x="467.30" y="467.1" width="1.4" height="9" fill="#222"/>
<text x="468.00" y="488.8" font-size="13" text-anchor="middle" fill="#1a1a1a">27</text>
<rect x="507.97" y="467.1" width="1.4" height="9" fill="#222"/>
<text x="508.67" y="488.8" font-size="13" text-anchor="middle" fill="#1a1a1a">28</text>
<rect x="548.64" y="467.1" width="1.4" height="9" fill="#222"/>
<text x="549.34" y="488.8" font-size="13" text-anchor="middle" fill="#1a1a1a">29</text>
<text x="50.4" y="471.30" font-size="13" text-anchor="end" fill="#1a1a1a">−5</text>
<text x="50.4" y="409.29" font-size="13" text-anchor="end" fill="#1a1a1a">0</text>
<text x="50.4" y="347.27" font-size="13" text-anchor="end" fill="#1a1a1a">5</text>
<text x="50.4" y="285.25" font-size="13" text-anchor="end" fill="#1a1a1a">10</text>
<text x="50.4" y="223.24" font-size="13" text-anchor="end" fill="#1a1a1a">15</text>
<text x="50.4" y="161.22" font-size="13" text-anchor="end" fill="#1a1a1a">20</text>
<text x="50.4" y="99.21" font-size="13" text-anchor="end" fill="#1a1a1a">25</text>
<text x="50.4" y="37.19" font-size="13" text-anchor="end" fill="#1a1a1a">30</text>
<line x1="61.9" y1="228.2" x2="549.2" y2="417" stroke="#c41a2e" stroke-width="2.8" stroke-linecap="round"/>
<circle cx="89.3" cy="52.6" r="3.55" fill="#ffe52a" stroke="#e5381a" stroke-width="1.35"/>
<circle cx="166.6" cy="242.5" r="3.55" fill="#ffe52a" stroke="#e5381a" stroke-width="1.35"/>
<circle cx="166.6" cy="253" r="3.55" fill="#ffe52a" stroke="#e5381a" stroke-width="1.35"/>
<circle cx="267.9" cy="233.7" r="3.55" fill="#ffe52a" stroke="#e5381a" stroke-width="1.35"/>
<circle cx="207" cy="279.2" r="3.55" fill="#ffe52a" stroke="#e5381a" stroke-width="1.35"/>
<circle cx="366.2" cy="266.4" r="3.55" fill="#ffe52a" stroke="#e5381a" stroke-width="1.35"/>
<circle cx="414.8" cy="290" r="3.55" fill="#ffe52a" stroke="#e5381a" stroke-width="1.35"/>
<circle cx="247.8" cy="307.8" r="3.55" fill="#ffe52a" stroke="#e5381a" stroke-width="1.35"/>
<circle cx="284.2" cy="319" r="3.55" fill="#ffe52a" stroke="#e5381a" stroke-width="1.35"/>
<circle cx="337.5" cy="317" r="3.55" fill="#ffe52a" stroke="#e5381a" stroke-width="1.35"/>
<circle cx="346.1" cy="321.9" r="3.55" fill="#ffe52a" stroke="#e5381a" stroke-width="1.35"/>
<circle cx="276.6" cy="334.5" r="3.55" fill="#ffe52a" stroke="#e5381a" stroke-width="1.35"/>
<circle cx="288.5" cy="335.3" r="3.55" fill="#ffe52a" stroke="#e5381a" stroke-width="1.35"/>
<circle cx="247.8" cy="337.8" r="3.55" fill="#ffe52a" stroke="#e5381a" stroke-width="1.35"/>
<circle cx="537" cy="346.6" r="3.55" fill="#ffe52a" stroke="#e5381a" stroke-width="1.35"/>
<circle cx="316.6" cy="346" r="3.55" fill="#ffe52a" stroke="#e5381a" stroke-width="1.35"/>
<circle cx="305" cy="355.1" r="3.55" fill="#ffe52a" stroke="#e5381a" stroke-width="1.35"/>
<circle cx="447.7" cy="352.5" r="3.55" fill="#ffe52a" stroke="#e5381a" stroke-width="1.35"/>
<circle cx="265" cy="370.4" r="3.55" fill="#ffe52a" stroke="#e5381a" stroke-width="1.35"/>
<circle cx="308.5" cy="367.6" r="3.55" fill="#ffe52a" stroke="#e5381a" stroke-width="1.35"/>
<circle cx="316.7" cy="367.6" r="3.55" fill="#ffe52a" stroke="#e5381a" stroke-width="1.35"/>
<circle cx="357.8" cy="367.9" r="3.55" fill="#ffe52a" stroke="#e5381a" stroke-width="1.35"/>
<circle cx="288.9" cy="422.6" r="3.55" fill="#ffe52a" stroke="#e5381a" stroke-width="1.35"/>
<circle cx="236" cy="441.6" r="3.55" fill="#ffe52a" stroke="#e5381a" stroke-width="1.35"/>
<text x="93.4" y="62" font-size="10.2" font-weight="bold" fill="#0b0b18" stroke="#0b0b18" stroke-width="0.3" textLength="38.6" lengthAdjust="spacingAndGlyphs">ODESSA</text>
<text x="171.5" y="246.2" font-size="10.2" font-weight="bold" fill="#0b0b18" stroke="#0b0b18" stroke-width="0.3" textLength="56.3" lengthAdjust="spacingAndGlyphs">BEAUMONT</text>
<text x="171" y="256.7" font-size="10.2" font-weight="bold" fill="#0b0b18" stroke="#0b0b18" stroke-width="0.3" textLength="47.5" lengthAdjust="spacingAndGlyphs">MIDLAND</text>
<text x="273.1" y="237.9" font-size="10.2" font-weight="bold" fill="#0b0b18" stroke="#0b0b18" stroke-width="0.3" textLength="39.8" lengthAdjust="spacingAndGlyphs">ABILENE</text>
<text x="211.7" y="275.8" font-size="10.2" font-weight="bold" fill="#0b0b18" stroke="#0b0b18" stroke-width="0.3" textLength="55.3" lengthAdjust="spacingAndGlyphs">LONGVIEW</text>
<text x="371.5" y="265.1" font-size="10.2" font-weight="bold" fill="#0b0b18" stroke="#0b0b18" stroke-width="0.3" textLength="38.1" lengthAdjust="spacingAndGlyphs">EL PASO</text>
<text x="419.3" y="296.2" font-size="10.2" font-weight="bold" fill="#0b0b18" stroke="#0b0b18" stroke-width="0.3" textLength="46.2" lengthAdjust="spacingAndGlyphs">MCALLEN</text>
<text x="196.4" y="311" font-size="10.2" font-weight="bold" fill="#0b0b18" stroke="#0b0b18" stroke-width="0.3" textLength="47.6" lengthAdjust="spacingAndGlyphs">LUBBOCK</text>
<text x="282.2" y="313.9" font-size="10.2" font-weight="bold" fill="#0b0b18" stroke="#0b0b18" stroke-width="0.3" textLength="38.1" lengthAdjust="spacingAndGlyphs">KILLEEN</text>
<text x="334" y="311.9" font-size="10.2" font-weight="bold" fill="#0b0b18" stroke="#0b0b18" stroke-width="0.3" textLength="82.4" lengthAdjust="spacingAndGlyphs">CORPUS CHRISTI</text>
<text x="350.8" y="325.8" font-size="10.2" font-weight="bold" fill="#0b0b18" stroke="#0b0b18" stroke-width="0.3" textLength="35.6" lengthAdjust="spacingAndGlyphs">AUSTIN</text>
<text x="227.2" y="331" font-size="10.2" font-weight="bold" fill="#0b0b18" stroke="#0b0b18" stroke-width="0.3" textLength="51.0" lengthAdjust="spacingAndGlyphs">AMARILLO</text>
<text x="293" y="339" font-size="10.2" font-weight="bold" fill="#0b0b18" stroke="#0b0b18" stroke-width="0.3" textLength="71.0" lengthAdjust="spacingAndGlyphs">SAN ANTONIO</text>
<text x="169.6" y="342" font-size="10.2" font-weight="bold" fill="#0b0b18" stroke="#0b0b18" stroke-width="0.3" textLength="74.3" lengthAdjust="spacingAndGlyphs">WICHITA FALLS</text>
<text x="498.3" y="341" font-size="10.2" font-weight="bold" fill="#0b0b18" stroke="#0b0b18" stroke-width="0.3" textLength="40.4" lengthAdjust="spacingAndGlyphs">LAREDO</text>
<text x="314.1" y="358.1" font-size="10.2" font-weight="bold" fill="#0b0b18" stroke="#0b0b18" stroke-width="0.3" textLength="48.3" lengthAdjust="spacingAndGlyphs">SHERMAN</text>
<text x="212.2" y="358.5" font-size="10.2" font-weight="bold" fill="#0b0b18" stroke="#0b0b18" stroke-width="0.3" textLength="89.5" lengthAdjust="spacingAndGlyphs">COLLEGE STATION</text>
<text x="437.6" y="366.2" font-size="10.2" font-weight="bold" fill="#0b0b18" stroke="#0b0b18" stroke-width="0.3" textLength="71.0" lengthAdjust="spacingAndGlyphs">BROWNSVILLE</text>
<text x="205.2" y="383" font-size="10.2" font-weight="bold" fill="#0b0b18" stroke="#0b0b18" stroke-width="0.3" textLength="63.6" lengthAdjust="spacingAndGlyphs">SAN ANGELO</text>
<text x="272.4" y="371.9" font-size="10.2" font-weight="bold" fill="#0b0b18" stroke="#0b0b18" stroke-width="0.3" textLength="31.4" lengthAdjust="spacingAndGlyphs">WACO</text>
<text x="312" y="381.2" font-size="10.2" font-weight="bold" fill="#0b0b18" stroke="#0b0b18" stroke-width="0.3" textLength="51.4" lengthAdjust="spacingAndGlyphs">HOUSTON</text>
<text x="362.4" y="371.1" font-size="10.2" font-weight="bold" fill="#0b0b18" stroke="#0b0b18" stroke-width="0.3" textLength="36.3" lengthAdjust="spacingAndGlyphs">DALLAS</text>
<text x="294.8" y="426.2" font-size="10.2" font-weight="bold" fill="#0b0b18" stroke="#0b0b18" stroke-width="0.3" textLength="27.4" lengthAdjust="spacingAndGlyphs">TYLER</text>
<text x="183.4" y="445.2" font-size="10.2" font-weight="bold" fill="#0b0b18" stroke="#0b0b18" stroke-width="0.3" textLength="47.5" lengthAdjust="spacingAndGlyphs">VICTORIA</text>
<text x="234.4" y="42.0" font-size="14" font-weight="bold" fill="#111" stroke="#111" stroke-width="0.25" textLength="314.4" lengthAdjust="spacingAndGlyphs">Growth Rates of Median Home Prices of Owner-</text>
<text x="325.3" y="58.5" font-size="14" font-weight="bold" fill="#111" stroke="#111" stroke-width="0.25" textLength="223.5" lengthAdjust="spacingAndGlyphs">Occupied Housing Units, 2007–09</text>
<text x="337.0" y="74.8" font-size="14" font-weight="bold" fill="#111" stroke="#111" stroke-width="0.25" textLength="211.8" lengthAdjust="spacingAndGlyphs">and Housing Costs as Percentage</text>
<text x="369.3" y="91.6" font-size="14" font-weight="bold" fill="#111" stroke="#111" stroke-width="0.25" textLength="179.5" lengthAdjust="spacingAndGlyphs">of Household Income, 2007</text>
<text x="190" y="506.5" font-size="12.6" font-weight="bold" fill="#111" stroke="#111" stroke-width="0.25" textLength="230.7" lengthAdjust="spacingAndGlyphs">Housing Costs as a Percentage of Income</text>
<text transform="translate(30.6,337.5) rotate(-90)" x="0" y="0" font-size="12.8" font-weight="bold" fill="#111" stroke="#111" stroke-width="0.25" textLength="169.5" lengthAdjust="spacingAndGlyphs">Home Price Increase (Percent)</text>
<text x="18.7" y="519.8" font-size="10.1" fill="#333" textLength="127.3" lengthAdjust="spacingAndGlyphs">Source: U.S. Census Bureau</text>
</svg></body></html>
